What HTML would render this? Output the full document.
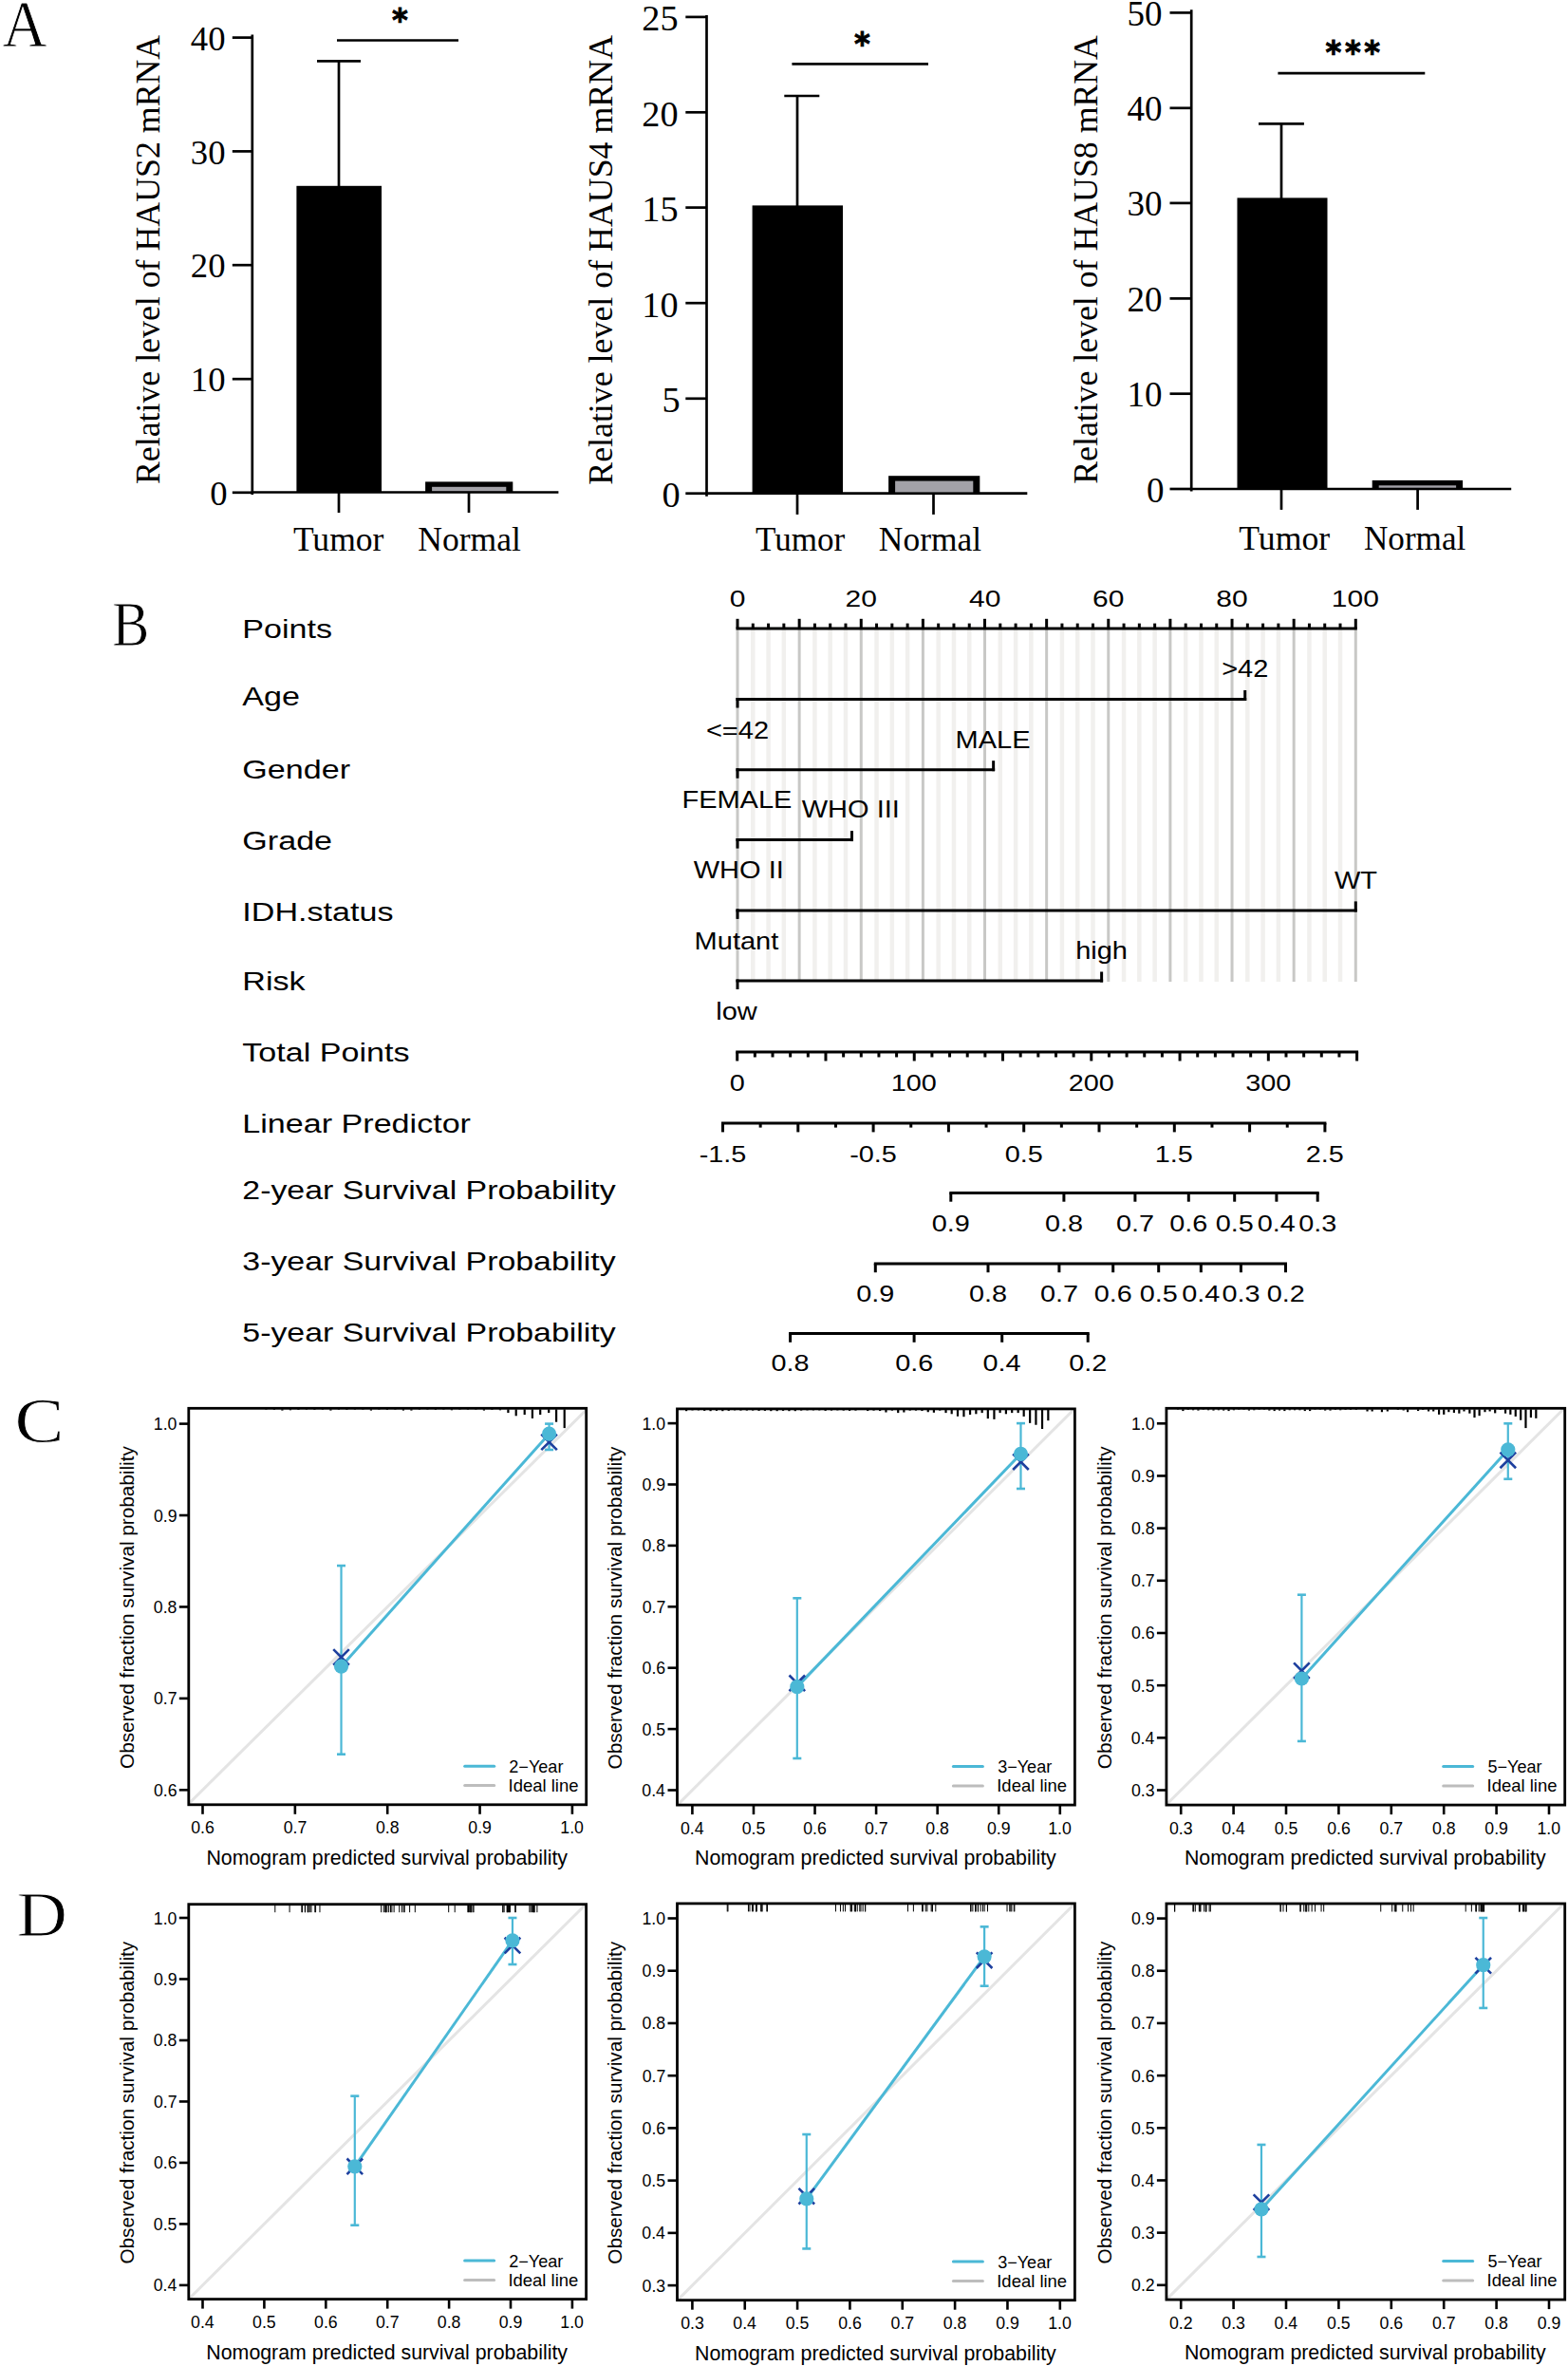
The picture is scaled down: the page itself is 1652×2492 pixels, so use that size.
<!DOCTYPE html>
<html><head><meta charset="utf-8"><title>Figure</title>
<style>html,body{margin:0;padding:0;background:#fff;} svg{display:block;}</style></head>
<body>
<svg width="1652" height="2492" viewBox="0 0 1652 2492">
<rect width="1652" height="2492" fill="#fff"/>
<text transform="translate(2.45,49.40) scale(0.9281,1)" font-family='"Liberation Serif", "Times New Roman", serif' font-size="70.15" stroke="#fff" stroke-width="0.8">A</text>
<line x1="265.80" y1="36.40" x2="265.80" y2="521.00" stroke="#000" stroke-width="2.7"/>
<line x1="244.80" y1="39.60" x2="265.80" y2="39.60" stroke="#000" stroke-width="2.7"/>
<text transform="translate(200.87,52.80)" font-family='"Liberation Serif", "Times New Roman", serif' font-size="36.7">40</text>
<line x1="244.80" y1="159.40" x2="265.80" y2="159.40" stroke="#000" stroke-width="2.7"/>
<text transform="translate(200.87,172.60)" font-family='"Liberation Serif", "Times New Roman", serif' font-size="36.7">30</text>
<line x1="244.80" y1="279.20" x2="265.80" y2="279.20" stroke="#000" stroke-width="2.7"/>
<text transform="translate(200.87,292.40)" font-family='"Liberation Serif", "Times New Roman", serif' font-size="36.7">20</text>
<line x1="244.80" y1="399.20" x2="265.80" y2="399.20" stroke="#000" stroke-width="2.7"/>
<text transform="translate(200.87,412.40)" font-family='"Liberation Serif", "Times New Roman", serif' font-size="36.7">10</text>
<line x1="244.80" y1="518.80" x2="265.80" y2="518.80" stroke="#000" stroke-width="2.7"/>
<text transform="translate(221.22,532.00)" font-family='"Liberation Serif", "Times New Roman", serif' font-size="36.7">0</text>
<line x1="264.80" y1="518.50" x2="588.40" y2="518.50" stroke="#000" stroke-width="2.7"/>
<line x1="357.00" y1="518.50" x2="357.00" y2="540.00" stroke="#000" stroke-width="2.7"/>
<line x1="494.00" y1="518.50" x2="494.00" y2="540.00" stroke="#000" stroke-width="2.7"/>
<rect x="312.40" y="195.80" width="89.60" height="322.70" fill="#000"/>
<line x1="357.00" y1="64.30" x2="357.00" y2="196.80" stroke="#000" stroke-width="2.7"/>
<line x1="334.00" y1="64.30" x2="380.00" y2="64.30" stroke="#000" stroke-width="2.7"/>
<rect x="448.10" y="507.40" width="92.20" height="11.10" fill="#000"/>
<rect x="455.10" y="512.80" width="78.20" height="4.40" fill="#a3a2a8"/>
<line x1="355.00" y1="42.50" x2="483.00" y2="42.50" stroke="#000" stroke-width="2.7"/>
<text transform="translate(413.06,33.26) scale(0.9436,1)" font-family='"DejaVu Sans", sans-serif' font-size="34" font-weight="bold" stroke="#000" stroke-width="0.9">*</text>
<text transform="translate(308.89,580.20) scale(1.0161,1)" font-family='"Liberation Serif", "Times New Roman", serif' font-size="35">Tumor</text>
<text transform="translate(440.23,580.20) scale(1.0164,1)" font-family='"Liberation Serif", "Times New Roman", serif' font-size="35">Normal</text>
<text transform="translate(168.30,510.07) rotate(-90) scale(1.0028,1)" font-family='"Liberation Serif", "Times New Roman", serif' font-size="35.7">Relative level of HAUS2 mRNA</text>
<line x1="744.50" y1="16.00" x2="744.50" y2="522.70" stroke="#000" stroke-width="2.7"/>
<line x1="722.30" y1="17.90" x2="744.50" y2="17.90" stroke="#000" stroke-width="2.7"/>
<text transform="translate(676.23,32.20)" font-family='"Liberation Serif", "Times New Roman", serif' font-size="38.3">25</text>
<line x1="722.30" y1="118.30" x2="744.50" y2="118.30" stroke="#000" stroke-width="2.7"/>
<text transform="translate(676.23,132.60)" font-family='"Liberation Serif", "Times New Roman", serif' font-size="38.3">20</text>
<line x1="722.30" y1="218.60" x2="744.50" y2="218.60" stroke="#000" stroke-width="2.7"/>
<text transform="translate(676.23,232.90)" font-family='"Liberation Serif", "Times New Roman", serif' font-size="38.3">15</text>
<line x1="722.30" y1="319.20" x2="744.50" y2="319.20" stroke="#000" stroke-width="2.7"/>
<text transform="translate(676.23,333.50)" font-family='"Liberation Serif", "Times New Roman", serif' font-size="38.3">10</text>
<line x1="722.30" y1="419.80" x2="744.50" y2="419.80" stroke="#000" stroke-width="2.7"/>
<text transform="translate(697.38,434.10)" font-family='"Liberation Serif", "Times New Roman", serif' font-size="38.3">5</text>
<line x1="722.30" y1="519.70" x2="744.50" y2="519.70" stroke="#000" stroke-width="2.7"/>
<text transform="translate(697.38,534.00)" font-family='"Liberation Serif", "Times New Roman", serif' font-size="38.3">0</text>
<line x1="743.50" y1="519.70" x2="1082.30" y2="519.70" stroke="#000" stroke-width="2.7"/>
<line x1="840.00" y1="519.70" x2="840.00" y2="541.90" stroke="#000" stroke-width="2.7"/>
<line x1="983.50" y1="519.70" x2="983.50" y2="541.90" stroke="#000" stroke-width="2.7"/>
<rect x="792.60" y="216.40" width="95.40" height="303.30" fill="#000"/>
<line x1="840.00" y1="101.00" x2="840.00" y2="217.40" stroke="#000" stroke-width="2.7"/>
<line x1="826.30" y1="101.00" x2="863.30" y2="101.00" stroke="#000" stroke-width="2.7"/>
<rect x="936.10" y="501.20" width="96.20" height="18.50" fill="#000"/>
<rect x="943.10" y="506.60" width="82.20" height="11.80" fill="#a3a2a8"/>
<line x1="834.40" y1="67.30" x2="978.00" y2="67.30" stroke="#000" stroke-width="2.7"/>
<text transform="translate(900.06,58.46) scale(0.9436,1)" font-family='"DejaVu Sans", sans-serif' font-size="34" font-weight="bold" stroke="#000" stroke-width="0.9">*</text>
<text transform="translate(796.00,580.00) scale(1.0011,1)" font-family='"Liberation Serif", "Times New Roman", serif' font-size="35">Tumor</text>
<text transform="translate(925.84,580.00) scale(1.0126,1)" font-family='"Liberation Serif", "Times New Roman", serif' font-size="35">Normal</text>
<text transform="translate(645.00,510.78) rotate(-90) scale(1.0042,1)" font-family='"Liberation Serif", "Times New Roman", serif' font-size="35.7">Relative level of HAUS4 mRNA</text>
<line x1="1255.20" y1="10.20" x2="1255.20" y2="517.50" stroke="#000" stroke-width="2.7"/>
<line x1="1232.50" y1="13.40" x2="1255.20" y2="13.40" stroke="#000" stroke-width="2.7"/>
<text transform="translate(1187.38,26.90)" font-family='"Liberation Serif", "Times New Roman", serif' font-size="37">50</text>
<line x1="1232.50" y1="113.80" x2="1255.20" y2="113.80" stroke="#000" stroke-width="2.7"/>
<text transform="translate(1187.38,127.30)" font-family='"Liberation Serif", "Times New Roman", serif' font-size="37">40</text>
<line x1="1232.50" y1="213.90" x2="1255.20" y2="213.90" stroke="#000" stroke-width="2.7"/>
<text transform="translate(1187.38,227.40)" font-family='"Liberation Serif", "Times New Roman", serif' font-size="37">30</text>
<line x1="1232.50" y1="314.40" x2="1255.20" y2="314.40" stroke="#000" stroke-width="2.7"/>
<text transform="translate(1187.38,327.90)" font-family='"Liberation Serif", "Times New Roman", serif' font-size="37">20</text>
<line x1="1232.50" y1="414.70" x2="1255.20" y2="414.70" stroke="#000" stroke-width="2.7"/>
<text transform="translate(1187.38,428.20)" font-family='"Liberation Serif", "Times New Roman", serif' font-size="37">10</text>
<line x1="1232.50" y1="515.00" x2="1255.20" y2="515.00" stroke="#000" stroke-width="2.7"/>
<text transform="translate(1207.88,528.50)" font-family='"Liberation Serif", "Times New Roman", serif' font-size="37">0</text>
<line x1="1254.20" y1="515.00" x2="1592.20" y2="515.00" stroke="#000" stroke-width="2.7"/>
<line x1="1350.00" y1="515.00" x2="1350.00" y2="536.90" stroke="#000" stroke-width="2.7"/>
<line x1="1493.60" y1="515.00" x2="1493.60" y2="536.90" stroke="#000" stroke-width="2.7"/>
<rect x="1303.50" y="208.40" width="95.00" height="306.60" fill="#000"/>
<line x1="1350.00" y1="130.30" x2="1350.00" y2="209.40" stroke="#000" stroke-width="2.7"/>
<line x1="1326.00" y1="130.30" x2="1373.90" y2="130.30" stroke="#000" stroke-width="2.7"/>
<rect x="1445.70" y="505.90" width="95.40" height="9.10" fill="#000"/>
<rect x="1452.70" y="511.30" width="81.40" height="2.40" fill="#a3a2a8"/>
<line x1="1346.40" y1="77.20" x2="1501.30" y2="77.20" stroke="#000" stroke-width="2.7"/>
<text transform="translate(1396.56,67.26) scale(0.9436,1)" font-family='"DejaVu Sans", sans-serif' font-size="34" font-weight="bold" stroke="#000" stroke-width="0.9">*</text>
<text transform="translate(1416.96,67.26) scale(0.9436,1)" font-family='"DejaVu Sans", sans-serif' font-size="34" font-weight="bold" stroke="#000" stroke-width="0.9">*</text>
<text transform="translate(1437.36,67.26) scale(0.9436,1)" font-family='"DejaVu Sans", sans-serif' font-size="34" font-weight="bold" stroke="#000" stroke-width="0.9">*</text>
<text transform="translate(1305.29,579.10) scale(1.0204,1)" font-family='"Liberation Serif", "Times New Roman", serif' font-size="35">Tumor</text>
<text transform="translate(1436.95,579.10) scale(1.0040,1)" font-family='"Liberation Serif", "Times New Roman", serif' font-size="35">Normal</text>
<text transform="translate(1156.30,509.77) rotate(-90) scale(1.0021,1)" font-family='"Liberation Serif", "Times New Roman", serif' font-size="35.7">Relative level of HAUS8 mRNA</text>
<text transform="translate(118.35,679.56) scale(0.8614,1)" font-family='"Liberation Serif", "Times New Roman", serif' font-size="67.88" stroke="#fff" stroke-width="0.8">B</text>
<line x1="777.00" y1="662" x2="777.00" y2="1034" stroke="#c8c8c6" stroke-width="3.0"/>
<line x1="793.28" y1="662" x2="793.28" y2="1034" stroke="#f1f0ee" stroke-width="4.5"/>
<line x1="809.57" y1="662" x2="809.57" y2="1034" stroke="#f1f0ee" stroke-width="4.5"/>
<line x1="825.85" y1="662" x2="825.85" y2="1034" stroke="#f1f0ee" stroke-width="4.5"/>
<line x1="842.13" y1="662" x2="842.13" y2="1034" stroke="#c8c8c6" stroke-width="3.0"/>
<line x1="858.41" y1="662" x2="858.41" y2="1034" stroke="#f1f0ee" stroke-width="4.5"/>
<line x1="874.69" y1="662" x2="874.69" y2="1034" stroke="#f1f0ee" stroke-width="4.5"/>
<line x1="890.98" y1="662" x2="890.98" y2="1034" stroke="#f1f0ee" stroke-width="4.5"/>
<line x1="907.26" y1="662" x2="907.26" y2="1034" stroke="#c8c8c6" stroke-width="3.0"/>
<line x1="923.54" y1="662" x2="923.54" y2="1034" stroke="#f1f0ee" stroke-width="4.5"/>
<line x1="939.83" y1="662" x2="939.83" y2="1034" stroke="#f1f0ee" stroke-width="4.5"/>
<line x1="956.11" y1="662" x2="956.11" y2="1034" stroke="#f1f0ee" stroke-width="4.5"/>
<line x1="972.39" y1="662" x2="972.39" y2="1034" stroke="#c8c8c6" stroke-width="3.0"/>
<line x1="988.67" y1="662" x2="988.67" y2="1034" stroke="#f1f0ee" stroke-width="4.5"/>
<line x1="1004.96" y1="662" x2="1004.96" y2="1034" stroke="#f1f0ee" stroke-width="4.5"/>
<line x1="1021.24" y1="662" x2="1021.24" y2="1034" stroke="#f1f0ee" stroke-width="4.5"/>
<line x1="1037.52" y1="662" x2="1037.52" y2="1034" stroke="#c8c8c6" stroke-width="3.0"/>
<line x1="1053.80" y1="662" x2="1053.80" y2="1034" stroke="#f1f0ee" stroke-width="4.5"/>
<line x1="1070.09" y1="662" x2="1070.09" y2="1034" stroke="#f1f0ee" stroke-width="4.5"/>
<line x1="1086.37" y1="662" x2="1086.37" y2="1034" stroke="#f1f0ee" stroke-width="4.5"/>
<line x1="1102.65" y1="662" x2="1102.65" y2="1034" stroke="#c8c8c6" stroke-width="3.0"/>
<line x1="1118.93" y1="662" x2="1118.93" y2="1034" stroke="#f1f0ee" stroke-width="4.5"/>
<line x1="1135.21" y1="662" x2="1135.21" y2="1034" stroke="#f1f0ee" stroke-width="4.5"/>
<line x1="1151.50" y1="662" x2="1151.50" y2="1034" stroke="#f1f0ee" stroke-width="4.5"/>
<line x1="1167.78" y1="662" x2="1167.78" y2="1034" stroke="#c8c8c6" stroke-width="3.0"/>
<line x1="1184.06" y1="662" x2="1184.06" y2="1034" stroke="#f1f0ee" stroke-width="4.5"/>
<line x1="1200.35" y1="662" x2="1200.35" y2="1034" stroke="#f1f0ee" stroke-width="4.5"/>
<line x1="1216.63" y1="662" x2="1216.63" y2="1034" stroke="#f1f0ee" stroke-width="4.5"/>
<line x1="1232.91" y1="662" x2="1232.91" y2="1034" stroke="#c8c8c6" stroke-width="3.0"/>
<line x1="1249.19" y1="662" x2="1249.19" y2="1034" stroke="#f1f0ee" stroke-width="4.5"/>
<line x1="1265.47" y1="662" x2="1265.47" y2="1034" stroke="#f1f0ee" stroke-width="4.5"/>
<line x1="1281.76" y1="662" x2="1281.76" y2="1034" stroke="#f1f0ee" stroke-width="4.5"/>
<line x1="1298.04" y1="662" x2="1298.04" y2="1034" stroke="#c8c8c6" stroke-width="3.0"/>
<line x1="1314.32" y1="662" x2="1314.32" y2="1034" stroke="#f1f0ee" stroke-width="4.5"/>
<line x1="1330.61" y1="662" x2="1330.61" y2="1034" stroke="#f1f0ee" stroke-width="4.5"/>
<line x1="1346.89" y1="662" x2="1346.89" y2="1034" stroke="#f1f0ee" stroke-width="4.5"/>
<line x1="1363.17" y1="662" x2="1363.17" y2="1034" stroke="#c8c8c6" stroke-width="3.0"/>
<line x1="1379.45" y1="662" x2="1379.45" y2="1034" stroke="#f1f0ee" stroke-width="4.5"/>
<line x1="1395.73" y1="662" x2="1395.73" y2="1034" stroke="#f1f0ee" stroke-width="4.5"/>
<line x1="1412.02" y1="662" x2="1412.02" y2="1034" stroke="#f1f0ee" stroke-width="4.5"/>
<line x1="1428.30" y1="662" x2="1428.30" y2="1034" stroke="#c8c8c6" stroke-width="3.0"/>
<text transform="translate(255.30,671.80) scale(1.2400,1)" font-family='"Liberation Sans", Arial, sans-serif' font-size="27.5">Points</text>
<text transform="translate(255.30,743.00) scale(1.2400,1)" font-family='"Liberation Sans", Arial, sans-serif' font-size="27.5">Age</text>
<text transform="translate(255.30,820.10) scale(1.2400,1)" font-family='"Liberation Sans", Arial, sans-serif' font-size="27.5">Gender</text>
<text transform="translate(255.30,894.60) scale(1.2400,1)" font-family='"Liberation Sans", Arial, sans-serif' font-size="27.5">Grade</text>
<text transform="translate(255.30,969.60) scale(1.2400,1)" font-family='"Liberation Sans", Arial, sans-serif' font-size="27.5">IDH.status</text>
<text transform="translate(255.30,1043.30) scale(1.2400,1)" font-family='"Liberation Sans", Arial, sans-serif' font-size="27.5">Risk</text>
<text transform="translate(255.30,1118.10) scale(1.2400,1)" font-family='"Liberation Sans", Arial, sans-serif' font-size="27.5">Total Points</text>
<text transform="translate(255.30,1192.90) scale(1.2400,1)" font-family='"Liberation Sans", Arial, sans-serif' font-size="27.5">Linear Predictor</text>
<text transform="translate(255.30,1263.40) scale(1.2320,1)" font-family='"Liberation Sans", Arial, sans-serif' font-size="27.5">2-year Survival Probability</text>
<text transform="translate(255.30,1338.20) scale(1.2320,1)" font-family='"Liberation Sans", Arial, sans-serif' font-size="27.5">3-year Survival Probability</text>
<text transform="translate(255.30,1413.00) scale(1.2320,1)" font-family='"Liberation Sans", Arial, sans-serif' font-size="27.5">5-year Survival Probability</text>
<line x1="775.50" y1="661.90" x2="1429.80" y2="661.90" stroke="#000" stroke-width="3.0"/>
<line x1="777.00" y1="651.80" x2="777.00" y2="661.90" stroke="#000" stroke-width="3.0"/>
<line x1="793.28" y1="656.60" x2="793.28" y2="661.90" stroke="#000" stroke-width="3.0"/>
<line x1="809.57" y1="656.60" x2="809.57" y2="661.90" stroke="#000" stroke-width="3.0"/>
<line x1="825.85" y1="656.60" x2="825.85" y2="661.90" stroke="#000" stroke-width="3.0"/>
<line x1="842.13" y1="651.80" x2="842.13" y2="661.90" stroke="#000" stroke-width="3.0"/>
<line x1="858.41" y1="656.60" x2="858.41" y2="661.90" stroke="#000" stroke-width="3.0"/>
<line x1="874.69" y1="656.60" x2="874.69" y2="661.90" stroke="#000" stroke-width="3.0"/>
<line x1="890.98" y1="656.60" x2="890.98" y2="661.90" stroke="#000" stroke-width="3.0"/>
<line x1="907.26" y1="651.80" x2="907.26" y2="661.90" stroke="#000" stroke-width="3.0"/>
<line x1="923.54" y1="656.60" x2="923.54" y2="661.90" stroke="#000" stroke-width="3.0"/>
<line x1="939.83" y1="656.60" x2="939.83" y2="661.90" stroke="#000" stroke-width="3.0"/>
<line x1="956.11" y1="656.60" x2="956.11" y2="661.90" stroke="#000" stroke-width="3.0"/>
<line x1="972.39" y1="651.80" x2="972.39" y2="661.90" stroke="#000" stroke-width="3.0"/>
<line x1="988.67" y1="656.60" x2="988.67" y2="661.90" stroke="#000" stroke-width="3.0"/>
<line x1="1004.96" y1="656.60" x2="1004.96" y2="661.90" stroke="#000" stroke-width="3.0"/>
<line x1="1021.24" y1="656.60" x2="1021.24" y2="661.90" stroke="#000" stroke-width="3.0"/>
<line x1="1037.52" y1="651.80" x2="1037.52" y2="661.90" stroke="#000" stroke-width="3.0"/>
<line x1="1053.80" y1="656.60" x2="1053.80" y2="661.90" stroke="#000" stroke-width="3.0"/>
<line x1="1070.09" y1="656.60" x2="1070.09" y2="661.90" stroke="#000" stroke-width="3.0"/>
<line x1="1086.37" y1="656.60" x2="1086.37" y2="661.90" stroke="#000" stroke-width="3.0"/>
<line x1="1102.65" y1="651.80" x2="1102.65" y2="661.90" stroke="#000" stroke-width="3.0"/>
<line x1="1118.93" y1="656.60" x2="1118.93" y2="661.90" stroke="#000" stroke-width="3.0"/>
<line x1="1135.21" y1="656.60" x2="1135.21" y2="661.90" stroke="#000" stroke-width="3.0"/>
<line x1="1151.50" y1="656.60" x2="1151.50" y2="661.90" stroke="#000" stroke-width="3.0"/>
<line x1="1167.78" y1="651.80" x2="1167.78" y2="661.90" stroke="#000" stroke-width="3.0"/>
<line x1="1184.06" y1="656.60" x2="1184.06" y2="661.90" stroke="#000" stroke-width="3.0"/>
<line x1="1200.35" y1="656.60" x2="1200.35" y2="661.90" stroke="#000" stroke-width="3.0"/>
<line x1="1216.63" y1="656.60" x2="1216.63" y2="661.90" stroke="#000" stroke-width="3.0"/>
<line x1="1232.91" y1="651.80" x2="1232.91" y2="661.90" stroke="#000" stroke-width="3.0"/>
<line x1="1249.19" y1="656.60" x2="1249.19" y2="661.90" stroke="#000" stroke-width="3.0"/>
<line x1="1265.47" y1="656.60" x2="1265.47" y2="661.90" stroke="#000" stroke-width="3.0"/>
<line x1="1281.76" y1="656.60" x2="1281.76" y2="661.90" stroke="#000" stroke-width="3.0"/>
<line x1="1298.04" y1="651.80" x2="1298.04" y2="661.90" stroke="#000" stroke-width="3.0"/>
<line x1="1314.32" y1="656.60" x2="1314.32" y2="661.90" stroke="#000" stroke-width="3.0"/>
<line x1="1330.61" y1="656.60" x2="1330.61" y2="661.90" stroke="#000" stroke-width="3.0"/>
<line x1="1346.89" y1="656.60" x2="1346.89" y2="661.90" stroke="#000" stroke-width="3.0"/>
<line x1="1363.17" y1="651.80" x2="1363.17" y2="661.90" stroke="#000" stroke-width="3.0"/>
<line x1="1379.45" y1="656.60" x2="1379.45" y2="661.90" stroke="#000" stroke-width="3.0"/>
<line x1="1395.73" y1="656.60" x2="1395.73" y2="661.90" stroke="#000" stroke-width="3.0"/>
<line x1="1412.02" y1="656.60" x2="1412.02" y2="661.90" stroke="#000" stroke-width="3.0"/>
<line x1="1428.30" y1="651.80" x2="1428.30" y2="661.90" stroke="#000" stroke-width="3.0"/>
<text transform="translate(768.67,638.70) scale(1.2500,1)" font-family='"Liberation Sans", Arial, sans-serif' font-size="24.0">0</text>
<text transform="translate(890.46,638.70) scale(1.2500,1)" font-family='"Liberation Sans", Arial, sans-serif' font-size="24.0">20</text>
<text transform="translate(1021.10,638.70) scale(1.2500,1)" font-family='"Liberation Sans", Arial, sans-serif' font-size="24.0">40</text>
<text transform="translate(1150.98,638.70) scale(1.2500,1)" font-family='"Liberation Sans", Arial, sans-serif' font-size="24.0">60</text>
<text transform="translate(1281.32,638.70) scale(1.2500,1)" font-family='"Liberation Sans", Arial, sans-serif' font-size="24.0">80</text>
<text transform="translate(1402.80,638.70) scale(1.2500,1)" font-family='"Liberation Sans", Arial, sans-serif' font-size="24.0">100</text>
<line x1="775.50" y1="736.50" x2="1313.22" y2="736.50" stroke="#000" stroke-width="3.0"/>
<line x1="777.00" y1="735.00" x2="777.00" y2="745.50" stroke="#000" stroke-width="3.0"/>
<line x1="1311.72" y1="738.00" x2="1311.72" y2="727.00" stroke="#000" stroke-width="3.0"/>
<text transform="translate(743.94,778.00) scale(1.1600,1)" font-family='"Liberation Sans", Arial, sans-serif' font-size="25.0">&lt;=42</text>
<text transform="translate(1287.14,712.80) scale(1.1600,1)" font-family='"Liberation Sans", Arial, sans-serif' font-size="25.0">&gt;42</text>
<line x1="775.50" y1="810.70" x2="1048.14" y2="810.70" stroke="#000" stroke-width="3.0"/>
<line x1="777.00" y1="809.20" x2="777.00" y2="819.70" stroke="#000" stroke-width="3.0"/>
<line x1="1046.64" y1="812.20" x2="1046.64" y2="801.20" stroke="#000" stroke-width="3.0"/>
<text transform="translate(718.42,851.30) scale(1.1600,1)" font-family='"Liberation Sans", Arial, sans-serif' font-size="25.0">FEMALE</text>
<text transform="translate(1006.62,787.50) scale(1.1600,1)" font-family='"Liberation Sans", Arial, sans-serif' font-size="25.0">MALE</text>
<line x1="775.50" y1="884.60" x2="898.99" y2="884.60" stroke="#000" stroke-width="3.0"/>
<line x1="777.00" y1="883.10" x2="777.00" y2="893.60" stroke="#000" stroke-width="3.0"/>
<line x1="897.49" y1="886.10" x2="897.49" y2="875.10" stroke="#000" stroke-width="3.0"/>
<text transform="translate(730.75,925.40) scale(1.1600,1)" font-family='"Liberation Sans", Arial, sans-serif' font-size="25.0">WHO II</text>
<text transform="translate(844.76,860.70) scale(1.1600,1)" font-family='"Liberation Sans", Arial, sans-serif' font-size="25.0">WHO III</text>
<line x1="775.50" y1="958.90" x2="1429.80" y2="958.90" stroke="#000" stroke-width="3.0"/>
<line x1="777.00" y1="957.40" x2="777.00" y2="967.90" stroke="#000" stroke-width="3.0"/>
<line x1="1428.30" y1="960.40" x2="1428.30" y2="949.40" stroke="#000" stroke-width="3.0"/>
<text transform="translate(731.61,999.60) scale(1.1600,1)" font-family='"Liberation Sans", Arial, sans-serif' font-size="25.0">Mutant</text>
<text transform="translate(1405.97,936.00) scale(1.1600,1)" font-family='"Liberation Sans", Arial, sans-serif' font-size="25.0">WT</text>
<line x1="775.50" y1="1033.00" x2="1162.12" y2="1033.00" stroke="#000" stroke-width="3.0"/>
<line x1="777.00" y1="1031.50" x2="777.00" y2="1042.00" stroke="#000" stroke-width="3.0"/>
<line x1="1160.62" y1="1034.50" x2="1160.62" y2="1023.50" stroke="#000" stroke-width="3.0"/>
<text transform="translate(754.24,1073.70) scale(1.1600,1)" font-family='"Liberation Sans", Arial, sans-serif' font-size="25.0">low</text>
<text transform="translate(1133.14,1010.00) scale(1.1600,1)" font-family='"Liberation Sans", Arial, sans-serif' font-size="25.0">high</text>
<line x1="775.20" y1="1108.00" x2="1431.10" y2="1108.00" stroke="#000" stroke-width="3.0"/>
<line x1="776.70" y1="1108.00" x2="776.70" y2="1117.50" stroke="#000" stroke-width="3.0"/>
<line x1="795.35" y1="1108.00" x2="795.35" y2="1113.50" stroke="#000" stroke-width="3.0"/>
<line x1="814.01" y1="1108.00" x2="814.01" y2="1113.50" stroke="#000" stroke-width="3.0"/>
<line x1="832.66" y1="1108.00" x2="832.66" y2="1113.50" stroke="#000" stroke-width="3.0"/>
<line x1="851.32" y1="1108.00" x2="851.32" y2="1113.50" stroke="#000" stroke-width="3.0"/>
<line x1="869.97" y1="1108.00" x2="869.97" y2="1117.50" stroke="#000" stroke-width="3.0"/>
<line x1="888.63" y1="1108.00" x2="888.63" y2="1113.50" stroke="#000" stroke-width="3.0"/>
<line x1="907.28" y1="1108.00" x2="907.28" y2="1113.50" stroke="#000" stroke-width="3.0"/>
<line x1="925.93" y1="1108.00" x2="925.93" y2="1113.50" stroke="#000" stroke-width="3.0"/>
<line x1="944.59" y1="1108.00" x2="944.59" y2="1113.50" stroke="#000" stroke-width="3.0"/>
<line x1="963.24" y1="1108.00" x2="963.24" y2="1117.50" stroke="#000" stroke-width="3.0"/>
<line x1="981.90" y1="1108.00" x2="981.90" y2="1113.50" stroke="#000" stroke-width="3.0"/>
<line x1="1000.55" y1="1108.00" x2="1000.55" y2="1113.50" stroke="#000" stroke-width="3.0"/>
<line x1="1019.21" y1="1108.00" x2="1019.21" y2="1113.50" stroke="#000" stroke-width="3.0"/>
<line x1="1037.86" y1="1108.00" x2="1037.86" y2="1113.50" stroke="#000" stroke-width="3.0"/>
<line x1="1056.51" y1="1108.00" x2="1056.51" y2="1117.50" stroke="#000" stroke-width="3.0"/>
<line x1="1075.17" y1="1108.00" x2="1075.17" y2="1113.50" stroke="#000" stroke-width="3.0"/>
<line x1="1093.82" y1="1108.00" x2="1093.82" y2="1113.50" stroke="#000" stroke-width="3.0"/>
<line x1="1112.48" y1="1108.00" x2="1112.48" y2="1113.50" stroke="#000" stroke-width="3.0"/>
<line x1="1131.13" y1="1108.00" x2="1131.13" y2="1113.50" stroke="#000" stroke-width="3.0"/>
<line x1="1149.79" y1="1108.00" x2="1149.79" y2="1117.50" stroke="#000" stroke-width="3.0"/>
<line x1="1168.44" y1="1108.00" x2="1168.44" y2="1113.50" stroke="#000" stroke-width="3.0"/>
<line x1="1187.09" y1="1108.00" x2="1187.09" y2="1113.50" stroke="#000" stroke-width="3.0"/>
<line x1="1205.75" y1="1108.00" x2="1205.75" y2="1113.50" stroke="#000" stroke-width="3.0"/>
<line x1="1224.40" y1="1108.00" x2="1224.40" y2="1113.50" stroke="#000" stroke-width="3.0"/>
<line x1="1243.06" y1="1108.00" x2="1243.06" y2="1117.50" stroke="#000" stroke-width="3.0"/>
<line x1="1261.71" y1="1108.00" x2="1261.71" y2="1113.50" stroke="#000" stroke-width="3.0"/>
<line x1="1280.37" y1="1108.00" x2="1280.37" y2="1113.50" stroke="#000" stroke-width="3.0"/>
<line x1="1299.02" y1="1108.00" x2="1299.02" y2="1113.50" stroke="#000" stroke-width="3.0"/>
<line x1="1317.67" y1="1108.00" x2="1317.67" y2="1113.50" stroke="#000" stroke-width="3.0"/>
<line x1="1336.33" y1="1108.00" x2="1336.33" y2="1117.50" stroke="#000" stroke-width="3.0"/>
<line x1="1354.98" y1="1108.00" x2="1354.98" y2="1113.50" stroke="#000" stroke-width="3.0"/>
<line x1="1373.64" y1="1108.00" x2="1373.64" y2="1113.50" stroke="#000" stroke-width="3.0"/>
<line x1="1392.29" y1="1108.00" x2="1392.29" y2="1113.50" stroke="#000" stroke-width="3.0"/>
<line x1="1410.95" y1="1108.00" x2="1410.95" y2="1113.50" stroke="#000" stroke-width="3.0"/>
<line x1="1429.60" y1="1108.00" x2="1429.60" y2="1117.50" stroke="#000" stroke-width="3.0"/>
<text transform="translate(768.71,1148.80) scale(1.2000,1)" font-family='"Liberation Sans", Arial, sans-serif' font-size="24.0">0</text>
<text transform="translate(938.76,1148.80) scale(1.2000,1)" font-family='"Liberation Sans", Arial, sans-serif' font-size="24.0">100</text>
<text transform="translate(1125.67,1148.80) scale(1.2000,1)" font-family='"Liberation Sans", Arial, sans-serif' font-size="24.0">200</text>
<text transform="translate(1312.35,1148.80) scale(1.2000,1)" font-family='"Liberation Sans", Arial, sans-serif' font-size="24.0">300</text>
<line x1="760.00" y1="1183.00" x2="1397.40" y2="1183.00" stroke="#000" stroke-width="3.0"/>
<line x1="761.50" y1="1183.00" x2="761.50" y2="1192.40" stroke="#000" stroke-width="3.0"/>
<line x1="801.15" y1="1183.00" x2="801.15" y2="1187.60" stroke="#000" stroke-width="3.0"/>
<line x1="840.80" y1="1183.00" x2="840.80" y2="1192.40" stroke="#000" stroke-width="3.0"/>
<line x1="880.45" y1="1183.00" x2="880.45" y2="1187.60" stroke="#000" stroke-width="3.0"/>
<line x1="920.10" y1="1183.00" x2="920.10" y2="1192.40" stroke="#000" stroke-width="3.0"/>
<line x1="959.75" y1="1183.00" x2="959.75" y2="1187.60" stroke="#000" stroke-width="3.0"/>
<line x1="999.40" y1="1183.00" x2="999.40" y2="1192.40" stroke="#000" stroke-width="3.0"/>
<line x1="1039.05" y1="1183.00" x2="1039.05" y2="1187.60" stroke="#000" stroke-width="3.0"/>
<line x1="1078.70" y1="1183.00" x2="1078.70" y2="1192.40" stroke="#000" stroke-width="3.0"/>
<line x1="1118.35" y1="1183.00" x2="1118.35" y2="1187.60" stroke="#000" stroke-width="3.0"/>
<line x1="1158.00" y1="1183.00" x2="1158.00" y2="1192.40" stroke="#000" stroke-width="3.0"/>
<line x1="1197.65" y1="1183.00" x2="1197.65" y2="1187.60" stroke="#000" stroke-width="3.0"/>
<line x1="1237.30" y1="1183.00" x2="1237.30" y2="1192.40" stroke="#000" stroke-width="3.0"/>
<line x1="1276.95" y1="1183.00" x2="1276.95" y2="1187.60" stroke="#000" stroke-width="3.0"/>
<line x1="1316.60" y1="1183.00" x2="1316.60" y2="1192.40" stroke="#000" stroke-width="3.0"/>
<line x1="1356.25" y1="1183.00" x2="1356.25" y2="1187.60" stroke="#000" stroke-width="3.0"/>
<line x1="1395.90" y1="1183.00" x2="1395.90" y2="1192.40" stroke="#000" stroke-width="3.0"/>
<text transform="translate(736.66,1224.00) scale(1.2000,1)" font-family='"Liberation Sans", Arial, sans-serif' font-size="24.0">-1.5</text>
<text transform="translate(895.26,1224.00) scale(1.2000,1)" font-family='"Liberation Sans", Arial, sans-serif' font-size="24.0">-0.5</text>
<text transform="translate(1058.68,1224.00) scale(1.2000,1)" font-family='"Liberation Sans", Arial, sans-serif' font-size="24.0">0.5</text>
<text transform="translate(1216.78,1224.00) scale(1.2000,1)" font-family='"Liberation Sans", Arial, sans-serif' font-size="24.0">1.5</text>
<text transform="translate(1375.74,1224.00) scale(1.2000,1)" font-family='"Liberation Sans", Arial, sans-serif' font-size="24.0">2.5</text>
<line x1="1000.30" y1="1256.50" x2="1389.70" y2="1256.50" stroke="#000" stroke-width="3.0"/>
<line x1="1001.80" y1="1256.50" x2="1001.80" y2="1265.70" stroke="#000" stroke-width="3.0"/>
<text transform="translate(981.86,1297.30) scale(1.2000,1)" font-family='"Liberation Sans", Arial, sans-serif' font-size="24.0">0.9</text>
<line x1="1120.90" y1="1256.50" x2="1120.90" y2="1265.70" stroke="#000" stroke-width="3.0"/>
<text transform="translate(1100.88,1297.30) scale(1.2000,1)" font-family='"Liberation Sans", Arial, sans-serif' font-size="24.0">0.8</text>
<line x1="1195.90" y1="1256.50" x2="1195.90" y2="1265.70" stroke="#000" stroke-width="3.0"/>
<text transform="translate(1176.03,1297.30) scale(1.2000,1)" font-family='"Liberation Sans", Arial, sans-serif' font-size="24.0">0.7</text>
<line x1="1252.30" y1="1256.50" x2="1252.30" y2="1265.70" stroke="#000" stroke-width="3.0"/>
<text transform="translate(1232.36,1297.30) scale(1.2000,1)" font-family='"Liberation Sans", Arial, sans-serif' font-size="24.0">0.6</text>
<line x1="1300.70" y1="1256.50" x2="1300.70" y2="1265.70" stroke="#000" stroke-width="3.0"/>
<text transform="translate(1280.68,1297.30) scale(1.2000,1)" font-family='"Liberation Sans", Arial, sans-serif' font-size="24.0">0.5</text>
<line x1="1344.90" y1="1256.50" x2="1344.90" y2="1265.70" stroke="#000" stroke-width="3.0"/>
<text transform="translate(1324.74,1297.30) scale(1.2000,1)" font-family='"Liberation Sans", Arial, sans-serif' font-size="24.0">0.4</text>
<line x1="1388.20" y1="1256.50" x2="1388.20" y2="1265.70" stroke="#000" stroke-width="3.0"/>
<text transform="translate(1368.26,1297.30) scale(1.2000,1)" font-family='"Liberation Sans", Arial, sans-serif' font-size="24.0">0.3</text>
<line x1="920.80" y1="1331.00" x2="1356.00" y2="1331.00" stroke="#000" stroke-width="3.0"/>
<line x1="922.30" y1="1331.00" x2="922.30" y2="1340.20" stroke="#000" stroke-width="3.0"/>
<text transform="translate(902.36,1371.00) scale(1.2000,1)" font-family='"Liberation Sans", Arial, sans-serif' font-size="24.0">0.9</text>
<line x1="1041.00" y1="1331.00" x2="1041.00" y2="1340.20" stroke="#000" stroke-width="3.0"/>
<text transform="translate(1020.98,1371.00) scale(1.2000,1)" font-family='"Liberation Sans", Arial, sans-serif' font-size="24.0">0.8</text>
<line x1="1115.90" y1="1331.00" x2="1115.90" y2="1340.20" stroke="#000" stroke-width="3.0"/>
<text transform="translate(1096.03,1371.00) scale(1.2000,1)" font-family='"Liberation Sans", Arial, sans-serif' font-size="24.0">0.7</text>
<line x1="1172.70" y1="1331.00" x2="1172.70" y2="1340.20" stroke="#000" stroke-width="3.0"/>
<text transform="translate(1152.76,1371.00) scale(1.2000,1)" font-family='"Liberation Sans", Arial, sans-serif' font-size="24.0">0.6</text>
<line x1="1220.70" y1="1331.00" x2="1220.70" y2="1340.20" stroke="#000" stroke-width="3.0"/>
<text transform="translate(1200.68,1371.00) scale(1.2000,1)" font-family='"Liberation Sans", Arial, sans-serif' font-size="24.0">0.5</text>
<line x1="1265.30" y1="1331.00" x2="1265.30" y2="1340.20" stroke="#000" stroke-width="3.0"/>
<text transform="translate(1245.14,1371.00) scale(1.2000,1)" font-family='"Liberation Sans", Arial, sans-serif' font-size="24.0">0.4</text>
<line x1="1307.40" y1="1331.00" x2="1307.40" y2="1340.20" stroke="#000" stroke-width="3.0"/>
<text transform="translate(1287.46,1371.00) scale(1.2000,1)" font-family='"Liberation Sans", Arial, sans-serif' font-size="24.0">0.3</text>
<line x1="1354.50" y1="1331.00" x2="1354.50" y2="1340.20" stroke="#000" stroke-width="3.0"/>
<text transform="translate(1334.63,1371.00) scale(1.2000,1)" font-family='"Liberation Sans", Arial, sans-serif' font-size="24.0">0.2</text>
<line x1="831.10" y1="1404.60" x2="1147.70" y2="1404.60" stroke="#000" stroke-width="3.0"/>
<line x1="832.60" y1="1404.60" x2="832.60" y2="1413.80" stroke="#000" stroke-width="3.0"/>
<text transform="translate(812.58,1443.80) scale(1.2000,1)" font-family='"Liberation Sans", Arial, sans-serif' font-size="24.0">0.8</text>
<line x1="963.10" y1="1404.60" x2="963.10" y2="1413.80" stroke="#000" stroke-width="3.0"/>
<text transform="translate(943.16,1443.80) scale(1.2000,1)" font-family='"Liberation Sans", Arial, sans-serif' font-size="24.0">0.6</text>
<line x1="1055.70" y1="1404.60" x2="1055.70" y2="1413.80" stroke="#000" stroke-width="3.0"/>
<text transform="translate(1035.54,1443.80) scale(1.2000,1)" font-family='"Liberation Sans", Arial, sans-serif' font-size="24.0">0.4</text>
<line x1="1146.20" y1="1404.60" x2="1146.20" y2="1413.80" stroke="#000" stroke-width="3.0"/>
<text transform="translate(1126.33,1443.80) scale(1.2000,1)" font-family='"Liberation Sans", Arial, sans-serif' font-size="24.0">0.2</text>
<text transform="translate(15.38,1519.21) scale(1.1345,1)" font-family='"Liberation Serif", "Times New Roman", serif' font-size="68.66" stroke="#fff" stroke-width="0.8">C</text>
<text transform="translate(17.79,2038.80) scale(1.0728,1)" font-family='"Liberation Serif", "Times New Roman", serif' font-size="68.55" stroke="#fff" stroke-width="0.8">D</text>
<g>
<clipPath id="cp1981483"><rect x="198.8" y="1483.3" width="418.90000000000003" height="417.5"/></clipPath>
<line x1="18.80" y1="2078.15" x2="797.60" y2="1306.75" stroke="#e4e4e4" stroke-width="3" clip-path="url(#cp1981483)"/>
<line x1="526.90" y1="1484.30" x2="526.90" y2="1485.30" stroke="#000" stroke-width="2.2"/>
<line x1="518.40" y1="1484.30" x2="518.40" y2="1485.00" stroke="#000" stroke-width="2.2"/>
<line x1="509.90" y1="1484.30" x2="509.90" y2="1485.60" stroke="#000" stroke-width="2.2"/>
<line x1="501.40" y1="1484.30" x2="501.40" y2="1484.80" stroke="#000" stroke-width="2.2"/>
<line x1="492.90" y1="1484.30" x2="492.90" y2="1484.80" stroke="#000" stroke-width="2.2"/>
<line x1="484.40" y1="1484.30" x2="484.40" y2="1484.80" stroke="#000" stroke-width="2.2"/>
<line x1="475.90" y1="1484.30" x2="475.90" y2="1485.30" stroke="#000" stroke-width="2.2"/>
<line x1="467.40" y1="1484.30" x2="467.40" y2="1484.80" stroke="#000" stroke-width="2.2"/>
<line x1="458.90" y1="1484.30" x2="458.90" y2="1485.00" stroke="#000" stroke-width="2.2"/>
<line x1="450.40" y1="1484.30" x2="450.40" y2="1484.80" stroke="#000" stroke-width="2.2"/>
<line x1="441.90" y1="1484.30" x2="441.90" y2="1484.80" stroke="#000" stroke-width="2.2"/>
<line x1="433.40" y1="1484.30" x2="433.40" y2="1485.60" stroke="#000" stroke-width="2.2"/>
<line x1="424.90" y1="1484.30" x2="424.90" y2="1485.60" stroke="#000" stroke-width="2.2"/>
<line x1="416.40" y1="1484.30" x2="416.40" y2="1484.80" stroke="#000" stroke-width="2.2"/>
<line x1="407.90" y1="1484.30" x2="407.90" y2="1485.00" stroke="#000" stroke-width="2.2"/>
<line x1="399.40" y1="1484.30" x2="399.40" y2="1484.80" stroke="#000" stroke-width="2.2"/>
<line x1="390.90" y1="1484.30" x2="390.90" y2="1485.60" stroke="#000" stroke-width="2.2"/>
<line x1="382.40" y1="1484.30" x2="382.40" y2="1484.80" stroke="#000" stroke-width="2.2"/>
<line x1="373.90" y1="1484.30" x2="373.90" y2="1484.80" stroke="#000" stroke-width="2.2"/>
<line x1="365.40" y1="1484.30" x2="365.40" y2="1485.00" stroke="#000" stroke-width="2.2"/>
<line x1="356.90" y1="1484.30" x2="356.90" y2="1484.80" stroke="#000" stroke-width="2.2"/>
<line x1="348.40" y1="1484.30" x2="348.40" y2="1485.60" stroke="#000" stroke-width="2.2"/>
<line x1="339.90" y1="1484.30" x2="339.90" y2="1484.80" stroke="#000" stroke-width="2.2"/>
<line x1="331.40" y1="1484.30" x2="331.40" y2="1485.00" stroke="#000" stroke-width="2.2"/>
<line x1="322.90" y1="1484.30" x2="322.90" y2="1484.80" stroke="#000" stroke-width="2.2"/>
<line x1="314.40" y1="1484.30" x2="314.40" y2="1485.00" stroke="#000" stroke-width="2.2"/>
<line x1="305.90" y1="1484.30" x2="305.90" y2="1485.30" stroke="#000" stroke-width="2.2"/>
<line x1="297.40" y1="1484.30" x2="297.40" y2="1485.60" stroke="#000" stroke-width="2.2"/>
<line x1="288.90" y1="1484.30" x2="288.90" y2="1485.00" stroke="#000" stroke-width="2.2"/>
<line x1="280.40" y1="1484.30" x2="280.40" y2="1484.80" stroke="#000" stroke-width="2.2"/>
<line x1="535.40" y1="1484.30" x2="535.40" y2="1488.10" stroke="#000" stroke-width="2.2"/>
<line x1="543.70" y1="1484.30" x2="543.70" y2="1491.30" stroke="#000" stroke-width="2.2"/>
<line x1="552.70" y1="1484.30" x2="552.70" y2="1490.10" stroke="#000" stroke-width="2.2"/>
<line x1="560.90" y1="1484.30" x2="560.90" y2="1493.90" stroke="#000" stroke-width="2.2"/>
<line x1="569.20" y1="1484.30" x2="569.20" y2="1490.10" stroke="#000" stroke-width="2.2"/>
<line x1="578.20" y1="1484.30" x2="578.20" y2="1488.10" stroke="#000" stroke-width="2.2"/>
<line x1="586.10" y1="1484.30" x2="586.10" y2="1497.70" stroke="#000" stroke-width="2.2"/>
<line x1="594.70" y1="1484.30" x2="594.70" y2="1504.10" stroke="#000" stroke-width="2.2"/>
<line x1="359.52" y1="1847.69" x2="359.52" y2="1649.06" stroke="#4bb8d6" stroke-width="2.2"/>
<line x1="355.02" y1="1847.69" x2="364.02" y2="1847.69" stroke="#4bb8d6" stroke-width="2.6"/>
<line x1="355.02" y1="1649.06" x2="364.02" y2="1649.06" stroke="#4bb8d6" stroke-width="2.6"/>
<line x1="578.56" y1="1526.98" x2="578.56" y2="1499.60" stroke="#4bb8d6" stroke-width="2.2"/>
<line x1="574.06" y1="1526.98" x2="583.06" y2="1526.98" stroke="#4bb8d6" stroke-width="2.6"/>
<line x1="574.06" y1="1499.60" x2="583.06" y2="1499.60" stroke="#4bb8d6" stroke-width="2.6"/>
<line x1="359.52" y1="1755.13" x2="578.56" y2="1510.21" stroke="#4bb8d6" stroke-width="3.0"/>
<path d="M351.22,1737.18L367.82,1753.78M351.22,1753.78L367.82,1737.18" stroke="#1d3f9e" stroke-width="2.6" fill="none"/>
<path d="M570.26,1510.59L586.86,1527.18M570.26,1527.18L586.86,1510.59" stroke="#1d3f9e" stroke-width="2.6" fill="none"/>
<circle cx="359.52" cy="1755.13" r="7.6" fill="#4bb8d6"/>
<circle cx="578.56" cy="1510.21" r="7.6" fill="#4bb8d6"/>
<rect x="198.80" y="1483.30" width="418.90" height="417.50" fill="none" stroke="#000" stroke-width="2.8"/>
<line x1="213.50" y1="1900.80" x2="213.50" y2="1910.80" stroke="#000" stroke-width="2.6"/>
<text transform="translate(201.24,1931.40)" font-family='"Liberation Sans", Arial, sans-serif' font-size="17.7">0.6</text>
<line x1="310.85" y1="1900.80" x2="310.85" y2="1910.80" stroke="#000" stroke-width="2.6"/>
<text transform="translate(298.64,1931.40)" font-family='"Liberation Sans", Arial, sans-serif' font-size="17.7">0.7</text>
<line x1="408.20" y1="1900.80" x2="408.20" y2="1910.80" stroke="#000" stroke-width="2.6"/>
<text transform="translate(395.90,1931.40)" font-family='"Liberation Sans", Arial, sans-serif' font-size="17.7">0.8</text>
<line x1="505.55" y1="1900.80" x2="505.55" y2="1910.80" stroke="#000" stroke-width="2.6"/>
<text transform="translate(493.29,1931.40)" font-family='"Liberation Sans", Arial, sans-serif' font-size="17.7">0.9</text>
<line x1="602.90" y1="1900.80" x2="602.90" y2="1910.80" stroke="#000" stroke-width="2.6"/>
<text transform="translate(590.29,1931.40)" font-family='"Liberation Sans", Arial, sans-serif' font-size="17.7">1.0</text>
<line x1="188.80" y1="1885.30" x2="198.80" y2="1885.30" stroke="#000" stroke-width="2.6"/>
<text transform="translate(161.89,1891.80)" font-family='"Liberation Sans", Arial, sans-serif' font-size="17.7">0.6</text>
<line x1="188.80" y1="1788.88" x2="198.80" y2="1788.88" stroke="#000" stroke-width="2.6"/>
<text transform="translate(161.98,1795.38)" font-family='"Liberation Sans", Arial, sans-serif' font-size="17.7">0.7</text>
<line x1="188.80" y1="1692.45" x2="198.80" y2="1692.45" stroke="#000" stroke-width="2.6"/>
<text transform="translate(161.81,1698.95)" font-family='"Liberation Sans", Arial, sans-serif' font-size="17.7">0.8</text>
<line x1="188.80" y1="1596.02" x2="198.80" y2="1596.02" stroke="#000" stroke-width="2.6"/>
<text transform="translate(161.89,1602.52)" font-family='"Liberation Sans", Arial, sans-serif' font-size="17.7">0.9</text>
<line x1="188.80" y1="1499.60" x2="198.80" y2="1499.60" stroke="#000" stroke-width="2.6"/>
<text transform="translate(161.81,1506.10)" font-family='"Liberation Sans", Arial, sans-serif' font-size="17.7">1.0</text>
<text transform="translate(217.39,1963.80) scale(1.0066,1)" font-family='"Liberation Sans", Arial, sans-serif' font-size="21.2">Nomogram predicted survival probability</text>
<text transform="translate(140.60,1862.98) rotate(-90) scale(1.0019,1)" font-family='"Liberation Sans", Arial, sans-serif' font-size="20.7">Observed fraction survival probability</text>
<line x1="489.70" y1="1860.20" x2="520.70" y2="1860.20" stroke="#4bb8d6" stroke-width="3.0" stroke-linecap="round"/>
<line x1="489.70" y1="1880.60" x2="520.70" y2="1880.60" stroke="#bdbdbd" stroke-width="3.0" stroke-linecap="round"/>
<text transform="translate(536.30,1867.00) scale(1.0222,1)" font-family='"Liberation Sans", Arial, sans-serif' font-size="17.7">2−Year</text>
<text transform="translate(535.54,1886.70) scale(1.0437,1)" font-family='"Liberation Sans", Arial, sans-serif' font-size="17.7">Ideal line</text>
</g>
<g>
<clipPath id="cp7131483"><rect x="713.5" y="1483.9" width="418.9000000000001" height="417.1999999999998"/></clipPath>
<line x1="600.27" y1="2014.30" x2="1245.93" y2="1370.30" stroke="#e4e4e4" stroke-width="3" clip-path="url(#cp7131483)"/>
<line x1="901.47" y1="1484.90" x2="901.47" y2="1485.63" stroke="#000" stroke-width="2.2"/>
<line x1="914.23" y1="1484.90" x2="914.23" y2="1486.07" stroke="#000" stroke-width="2.2"/>
<line x1="920.54" y1="1484.90" x2="920.54" y2="1485.63" stroke="#000" stroke-width="2.2"/>
<line x1="927.14" y1="1484.90" x2="927.14" y2="1486.07" stroke="#000" stroke-width="2.2"/>
<line x1="933.45" y1="1484.90" x2="933.45" y2="1487.54" stroke="#000" stroke-width="2.2"/>
<line x1="939.90" y1="1484.90" x2="939.90" y2="1485.63" stroke="#000" stroke-width="2.2"/>
<line x1="946.21" y1="1484.90" x2="946.21" y2="1488.13" stroke="#000" stroke-width="2.2"/>
<line x1="952.37" y1="1484.90" x2="952.37" y2="1487.54" stroke="#000" stroke-width="2.2"/>
<line x1="958.68" y1="1484.90" x2="958.68" y2="1485.63" stroke="#000" stroke-width="2.2"/>
<line x1="964.98" y1="1484.90" x2="964.98" y2="1485.63" stroke="#000" stroke-width="2.2"/>
<line x1="971.44" y1="1484.90" x2="971.44" y2="1486.07" stroke="#000" stroke-width="2.2"/>
<line x1="977.75" y1="1484.90" x2="977.75" y2="1487.25" stroke="#000" stroke-width="2.2"/>
<line x1="983.91" y1="1484.90" x2="983.91" y2="1487.83" stroke="#000" stroke-width="2.2"/>
<line x1="990.22" y1="1484.90" x2="990.22" y2="1485.63" stroke="#000" stroke-width="2.2"/>
<line x1="996.52" y1="1484.90" x2="996.52" y2="1488.13" stroke="#000" stroke-width="2.2"/>
<line x1="1002.68" y1="1484.90" x2="1002.68" y2="1489.30" stroke="#000" stroke-width="2.2"/>
<line x1="1008.99" y1="1484.90" x2="1008.99" y2="1491.79" stroke="#000" stroke-width="2.2"/>
<line x1="1015.45" y1="1484.90" x2="1015.45" y2="1492.23" stroke="#000" stroke-width="2.2"/>
<line x1="1022.05" y1="1484.90" x2="1022.05" y2="1490.03" stroke="#000" stroke-width="2.2"/>
<line x1="1028.36" y1="1484.90" x2="1028.36" y2="1489.30" stroke="#000" stroke-width="2.2"/>
<line x1="1034.66" y1="1484.90" x2="1034.66" y2="1488.13" stroke="#000" stroke-width="2.2"/>
<line x1="1040.82" y1="1484.90" x2="1040.82" y2="1494.14" stroke="#000" stroke-width="2.2"/>
<line x1="1047.43" y1="1484.90" x2="1047.43" y2="1494.88" stroke="#000" stroke-width="2.2"/>
<line x1="1053.59" y1="1484.90" x2="1053.59" y2="1488.13" stroke="#000" stroke-width="2.2"/>
<line x1="1059.89" y1="1484.90" x2="1059.89" y2="1489.30" stroke="#000" stroke-width="2.2"/>
<line x1="1066.20" y1="1484.90" x2="1066.20" y2="1488.13" stroke="#000" stroke-width="2.2"/>
<line x1="1072.66" y1="1484.90" x2="1072.66" y2="1488.13" stroke="#000" stroke-width="2.2"/>
<line x1="1078.67" y1="1484.90" x2="1078.67" y2="1491.94" stroke="#000" stroke-width="2.2"/>
<line x1="1085.13" y1="1484.90" x2="1085.13" y2="1498.84" stroke="#000" stroke-width="2.2"/>
<line x1="1091.43" y1="1484.90" x2="1091.43" y2="1500.74" stroke="#000" stroke-width="2.2"/>
<line x1="1098.03" y1="1484.90" x2="1098.03" y2="1505.00" stroke="#000" stroke-width="2.2"/>
<line x1="1104.34" y1="1484.90" x2="1104.34" y2="1496.20" stroke="#000" stroke-width="2.2"/>
<line x1="895.10" y1="1484.90" x2="895.10" y2="1485.90" stroke="#000" stroke-width="2.2"/>
<line x1="888.73" y1="1484.90" x2="888.73" y2="1485.60" stroke="#000" stroke-width="2.2"/>
<line x1="882.36" y1="1484.90" x2="882.36" y2="1485.40" stroke="#000" stroke-width="2.2"/>
<line x1="875.99" y1="1484.90" x2="875.99" y2="1485.60" stroke="#000" stroke-width="2.2"/>
<line x1="869.62" y1="1484.90" x2="869.62" y2="1485.90" stroke="#000" stroke-width="2.2"/>
<line x1="863.25" y1="1484.90" x2="863.25" y2="1485.40" stroke="#000" stroke-width="2.2"/>
<line x1="856.88" y1="1484.90" x2="856.88" y2="1485.40" stroke="#000" stroke-width="2.2"/>
<line x1="850.51" y1="1484.90" x2="850.51" y2="1485.40" stroke="#000" stroke-width="2.2"/>
<line x1="844.14" y1="1484.90" x2="844.14" y2="1485.60" stroke="#000" stroke-width="2.2"/>
<line x1="837.77" y1="1484.90" x2="837.77" y2="1486.20" stroke="#000" stroke-width="2.2"/>
<line x1="831.40" y1="1484.90" x2="831.40" y2="1486.20" stroke="#000" stroke-width="2.2"/>
<line x1="825.03" y1="1484.90" x2="825.03" y2="1485.90" stroke="#000" stroke-width="2.2"/>
<line x1="818.66" y1="1484.90" x2="818.66" y2="1486.20" stroke="#000" stroke-width="2.2"/>
<line x1="812.29" y1="1484.90" x2="812.29" y2="1486.20" stroke="#000" stroke-width="2.2"/>
<line x1="805.92" y1="1484.90" x2="805.92" y2="1485.90" stroke="#000" stroke-width="2.2"/>
<line x1="799.55" y1="1484.90" x2="799.55" y2="1485.90" stroke="#000" stroke-width="2.2"/>
<line x1="793.18" y1="1484.90" x2="793.18" y2="1485.60" stroke="#000" stroke-width="2.2"/>
<line x1="786.81" y1="1484.90" x2="786.81" y2="1485.60" stroke="#000" stroke-width="2.2"/>
<line x1="780.44" y1="1484.90" x2="780.44" y2="1485.60" stroke="#000" stroke-width="2.2"/>
<line x1="774.07" y1="1484.90" x2="774.07" y2="1485.40" stroke="#000" stroke-width="2.2"/>
<line x1="767.70" y1="1484.90" x2="767.70" y2="1485.90" stroke="#000" stroke-width="2.2"/>
<line x1="761.33" y1="1484.90" x2="761.33" y2="1486.20" stroke="#000" stroke-width="2.2"/>
<line x1="754.96" y1="1484.90" x2="754.96" y2="1485.90" stroke="#000" stroke-width="2.2"/>
<line x1="748.59" y1="1484.90" x2="748.59" y2="1486.20" stroke="#000" stroke-width="2.2"/>
<line x1="742.22" y1="1484.90" x2="742.22" y2="1485.90" stroke="#000" stroke-width="2.2"/>
<line x1="735.85" y1="1484.90" x2="735.85" y2="1485.40" stroke="#000" stroke-width="2.2"/>
<line x1="729.48" y1="1484.90" x2="729.48" y2="1485.40" stroke="#000" stroke-width="2.2"/>
<line x1="723.11" y1="1484.90" x2="723.11" y2="1486.20" stroke="#000" stroke-width="2.2"/>
<line x1="839.81" y1="1852.01" x2="839.81" y2="1683.28" stroke="#4bb8d6" stroke-width="2.2"/>
<line x1="835.31" y1="1852.01" x2="844.31" y2="1852.01" stroke="#4bb8d6" stroke-width="2.6"/>
<line x1="835.31" y1="1683.28" x2="844.31" y2="1683.28" stroke="#4bb8d6" stroke-width="2.6"/>
<line x1="1075.48" y1="1568.01" x2="1075.48" y2="1499.10" stroke="#4bb8d6" stroke-width="2.2"/>
<line x1="1070.98" y1="1568.01" x2="1079.98" y2="1568.01" stroke="#4bb8d6" stroke-width="2.6"/>
<line x1="1070.98" y1="1499.10" x2="1079.98" y2="1499.10" stroke="#4bb8d6" stroke-width="2.6"/>
<line x1="839.81" y1="1776.66" x2="1075.48" y2="1531.30" stroke="#4bb8d6" stroke-width="3.0"/>
<path d="M831.51,1764.50L848.11,1781.10M831.51,1781.10L848.11,1764.50" stroke="#1d3f9e" stroke-width="2.6" fill="none"/>
<path d="M1067.18,1531.37L1083.78,1547.97M1067.18,1547.97L1083.78,1531.37" stroke="#1d3f9e" stroke-width="2.6" fill="none"/>
<circle cx="839.81" cy="1776.66" r="7.6" fill="#4bb8d6"/>
<circle cx="1075.48" cy="1531.30" r="7.6" fill="#4bb8d6"/>
<rect x="713.50" y="1483.90" width="418.90" height="417.20" fill="none" stroke="#000" stroke-width="2.8"/>
<line x1="729.40" y1="1901.10" x2="729.40" y2="1911.10" stroke="#000" stroke-width="2.6"/>
<text transform="translate(717.01,1931.70)" font-family='"Liberation Sans", Arial, sans-serif' font-size="17.7">0.4</text>
<line x1="793.97" y1="1901.10" x2="793.97" y2="1911.10" stroke="#000" stroke-width="2.6"/>
<text transform="translate(781.67,1931.70)" font-family='"Liberation Sans", Arial, sans-serif' font-size="17.7">0.5</text>
<line x1="858.53" y1="1901.10" x2="858.53" y2="1911.10" stroke="#000" stroke-width="2.6"/>
<text transform="translate(846.28,1931.70)" font-family='"Liberation Sans", Arial, sans-serif' font-size="17.7">0.6</text>
<line x1="923.10" y1="1901.10" x2="923.10" y2="1911.10" stroke="#000" stroke-width="2.6"/>
<text transform="translate(910.89,1931.70)" font-family='"Liberation Sans", Arial, sans-serif' font-size="17.7">0.7</text>
<line x1="987.67" y1="1901.10" x2="987.67" y2="1911.10" stroke="#000" stroke-width="2.6"/>
<text transform="translate(975.37,1931.70)" font-family='"Liberation Sans", Arial, sans-serif' font-size="17.7">0.8</text>
<line x1="1052.23" y1="1901.10" x2="1052.23" y2="1911.10" stroke="#000" stroke-width="2.6"/>
<text transform="translate(1039.98,1931.70)" font-family='"Liberation Sans", Arial, sans-serif' font-size="17.7">0.9</text>
<line x1="1116.80" y1="1901.10" x2="1116.80" y2="1911.10" stroke="#000" stroke-width="2.6"/>
<text transform="translate(1104.19,1931.70)" font-family='"Liberation Sans", Arial, sans-serif' font-size="17.7">1.0</text>
<line x1="703.50" y1="1885.50" x2="713.50" y2="1885.50" stroke="#000" stroke-width="2.6"/>
<text transform="translate(676.33,1892.00)" font-family='"Liberation Sans", Arial, sans-serif' font-size="17.7">0.4</text>
<line x1="703.50" y1="1821.10" x2="713.50" y2="1821.10" stroke="#000" stroke-width="2.6"/>
<text transform="translate(676.50,1827.60)" font-family='"Liberation Sans", Arial, sans-serif' font-size="17.7">0.5</text>
<line x1="703.50" y1="1756.70" x2="713.50" y2="1756.70" stroke="#000" stroke-width="2.6"/>
<text transform="translate(676.59,1763.20)" font-family='"Liberation Sans", Arial, sans-serif' font-size="17.7">0.6</text>
<line x1="703.50" y1="1692.30" x2="713.50" y2="1692.30" stroke="#000" stroke-width="2.6"/>
<text transform="translate(676.68,1698.80)" font-family='"Liberation Sans", Arial, sans-serif' font-size="17.7">0.7</text>
<line x1="703.50" y1="1627.90" x2="713.50" y2="1627.90" stroke="#000" stroke-width="2.6"/>
<text transform="translate(676.50,1634.40)" font-family='"Liberation Sans", Arial, sans-serif' font-size="17.7">0.8</text>
<line x1="703.50" y1="1563.50" x2="713.50" y2="1563.50" stroke="#000" stroke-width="2.6"/>
<text transform="translate(676.59,1570.00)" font-family='"Liberation Sans", Arial, sans-serif' font-size="17.7">0.9</text>
<line x1="703.50" y1="1499.10" x2="713.50" y2="1499.10" stroke="#000" stroke-width="2.6"/>
<text transform="translate(676.50,1505.60)" font-family='"Liberation Sans", Arial, sans-serif' font-size="17.7">1.0</text>
<text transform="translate(732.09,1964.10) scale(1.0066,1)" font-family='"Liberation Sans", Arial, sans-serif' font-size="21.2">Nomogram predicted survival probability</text>
<text transform="translate(655.30,1863.43) rotate(-90) scale(1.0019,1)" font-family='"Liberation Sans", Arial, sans-serif' font-size="20.7">Observed fraction survival probability</text>
<line x1="1004.40" y1="1860.50" x2="1035.40" y2="1860.50" stroke="#4bb8d6" stroke-width="3.0" stroke-linecap="round"/>
<line x1="1004.40" y1="1880.90" x2="1035.40" y2="1880.90" stroke="#bdbdbd" stroke-width="3.0" stroke-linecap="round"/>
<text transform="translate(1051.18,1867.30) scale(1.0190,1)" font-family='"Liberation Sans", Arial, sans-serif' font-size="17.7">3−Year</text>
<text transform="translate(1050.24,1887.00) scale(1.0437,1)" font-family='"Liberation Sans", Arial, sans-serif' font-size="17.7">Ideal line</text>
</g>
<g>
<clipPath id="cp12281483"><rect x="1228.9" y="1483.3" width="419.79999999999995" height="417.79999999999995"/></clipPath>
<line x1="1133.40" y1="1995.84" x2="1742.80" y2="1388.96" stroke="#e4e4e4" stroke-width="3" clip-path="url(#cp12281483)"/>
<line x1="1422.93" y1="1484.30" x2="1422.93" y2="1485.03" stroke="#000" stroke-width="2.2"/>
<line x1="1428.80" y1="1484.30" x2="1428.80" y2="1485.03" stroke="#000" stroke-width="2.2"/>
<line x1="1440.54" y1="1484.30" x2="1440.54" y2="1486.50" stroke="#000" stroke-width="2.2"/>
<line x1="1445.67" y1="1484.30" x2="1445.67" y2="1486.50" stroke="#000" stroke-width="2.2"/>
<line x1="1455.94" y1="1484.30" x2="1455.94" y2="1487.23" stroke="#000" stroke-width="2.2"/>
<line x1="1461.81" y1="1484.30" x2="1461.81" y2="1486.50" stroke="#000" stroke-width="2.2"/>
<line x1="1472.81" y1="1484.30" x2="1472.81" y2="1485.03" stroke="#000" stroke-width="2.2"/>
<line x1="1478.68" y1="1484.30" x2="1478.68" y2="1485.47" stroke="#000" stroke-width="2.2"/>
<line x1="1483.08" y1="1484.30" x2="1483.08" y2="1487.23" stroke="#000" stroke-width="2.2"/>
<line x1="1494.08" y1="1484.30" x2="1494.08" y2="1486.06" stroke="#000" stroke-width="2.2"/>
<line x1="1499.21" y1="1484.30" x2="1499.21" y2="1485.03" stroke="#000" stroke-width="2.2"/>
<line x1="1505.08" y1="1484.30" x2="1505.08" y2="1486.50" stroke="#000" stroke-width="2.2"/>
<line x1="1510.22" y1="1484.30" x2="1510.22" y2="1486.50" stroke="#000" stroke-width="2.2"/>
<line x1="1516.08" y1="1484.30" x2="1516.08" y2="1489.87" stroke="#000" stroke-width="2.2"/>
<line x1="1521.22" y1="1484.30" x2="1521.22" y2="1489.87" stroke="#000" stroke-width="2.2"/>
<line x1="1526.35" y1="1484.30" x2="1526.35" y2="1487.23" stroke="#000" stroke-width="2.2"/>
<line x1="1531.93" y1="1484.30" x2="1531.93" y2="1487.97" stroke="#000" stroke-width="2.2"/>
<line x1="1537.35" y1="1484.30" x2="1537.35" y2="1488.70" stroke="#000" stroke-width="2.2"/>
<line x1="1542.49" y1="1484.30" x2="1542.49" y2="1486.50" stroke="#000" stroke-width="2.2"/>
<line x1="1548.36" y1="1484.30" x2="1548.36" y2="1488.70" stroke="#000" stroke-width="2.2"/>
<line x1="1553.49" y1="1484.30" x2="1553.49" y2="1493.10" stroke="#000" stroke-width="2.2"/>
<line x1="1558.62" y1="1484.30" x2="1558.62" y2="1491.19" stroke="#000" stroke-width="2.2"/>
<line x1="1564.49" y1="1484.30" x2="1564.49" y2="1487.23" stroke="#000" stroke-width="2.2"/>
<line x1="1569.63" y1="1484.30" x2="1569.63" y2="1486.50" stroke="#000" stroke-width="2.2"/>
<line x1="1575.20" y1="1484.30" x2="1575.20" y2="1488.41" stroke="#000" stroke-width="2.2"/>
<line x1="1580.63" y1="1484.30" x2="1580.63" y2="1485.03" stroke="#000" stroke-width="2.2"/>
<line x1="1586.06" y1="1484.30" x2="1586.06" y2="1488.70" stroke="#000" stroke-width="2.2"/>
<line x1="1591.34" y1="1484.30" x2="1591.34" y2="1489.87" stroke="#000" stroke-width="2.2"/>
<line x1="1596.76" y1="1484.30" x2="1596.76" y2="1491.93" stroke="#000" stroke-width="2.2"/>
<line x1="1602.19" y1="1484.30" x2="1602.19" y2="1495.74" stroke="#000" stroke-width="2.2"/>
<line x1="1607.47" y1="1484.30" x2="1607.47" y2="1504.10" stroke="#000" stroke-width="2.2"/>
<line x1="1612.90" y1="1484.30" x2="1612.90" y2="1493.10" stroke="#000" stroke-width="2.2"/>
<line x1="1618.33" y1="1484.30" x2="1618.33" y2="1493.83" stroke="#000" stroke-width="2.2"/>
<line x1="1417.58" y1="1484.30" x2="1417.58" y2="1485.00" stroke="#000" stroke-width="2.2"/>
<line x1="1412.23" y1="1484.30" x2="1412.23" y2="1485.30" stroke="#000" stroke-width="2.2"/>
<line x1="1406.88" y1="1484.30" x2="1406.88" y2="1485.00" stroke="#000" stroke-width="2.2"/>
<line x1="1401.53" y1="1484.30" x2="1401.53" y2="1485.60" stroke="#000" stroke-width="2.2"/>
<line x1="1396.18" y1="1484.30" x2="1396.18" y2="1485.60" stroke="#000" stroke-width="2.2"/>
<line x1="1390.83" y1="1484.30" x2="1390.83" y2="1484.80" stroke="#000" stroke-width="2.2"/>
<line x1="1385.48" y1="1484.30" x2="1385.48" y2="1484.80" stroke="#000" stroke-width="2.2"/>
<line x1="1380.13" y1="1484.30" x2="1380.13" y2="1486.10" stroke="#000" stroke-width="2.2"/>
<line x1="1374.78" y1="1484.30" x2="1374.78" y2="1486.10" stroke="#000" stroke-width="2.2"/>
<line x1="1369.43" y1="1484.30" x2="1369.43" y2="1485.30" stroke="#000" stroke-width="2.2"/>
<line x1="1364.08" y1="1484.30" x2="1364.08" y2="1485.30" stroke="#000" stroke-width="2.2"/>
<line x1="1358.73" y1="1484.30" x2="1358.73" y2="1485.30" stroke="#000" stroke-width="2.2"/>
<line x1="1353.38" y1="1484.30" x2="1353.38" y2="1486.10" stroke="#000" stroke-width="2.2"/>
<line x1="1348.03" y1="1484.30" x2="1348.03" y2="1485.60" stroke="#000" stroke-width="2.2"/>
<line x1="1342.68" y1="1484.30" x2="1342.68" y2="1486.10" stroke="#000" stroke-width="2.2"/>
<line x1="1337.33" y1="1484.30" x2="1337.33" y2="1485.60" stroke="#000" stroke-width="2.2"/>
<line x1="1331.98" y1="1484.30" x2="1331.98" y2="1484.80" stroke="#000" stroke-width="2.2"/>
<line x1="1326.63" y1="1484.30" x2="1326.63" y2="1484.80" stroke="#000" stroke-width="2.2"/>
<line x1="1321.28" y1="1484.30" x2="1321.28" y2="1485.30" stroke="#000" stroke-width="2.2"/>
<line x1="1315.93" y1="1484.30" x2="1315.93" y2="1485.60" stroke="#000" stroke-width="2.2"/>
<line x1="1310.58" y1="1484.30" x2="1310.58" y2="1484.80" stroke="#000" stroke-width="2.2"/>
<line x1="1305.23" y1="1484.30" x2="1305.23" y2="1484.80" stroke="#000" stroke-width="2.2"/>
<line x1="1299.88" y1="1484.30" x2="1299.88" y2="1485.30" stroke="#000" stroke-width="2.2"/>
<line x1="1294.53" y1="1484.30" x2="1294.53" y2="1486.10" stroke="#000" stroke-width="2.2"/>
<line x1="1289.18" y1="1484.30" x2="1289.18" y2="1485.60" stroke="#000" stroke-width="2.2"/>
<line x1="1283.83" y1="1484.30" x2="1283.83" y2="1485.30" stroke="#000" stroke-width="2.2"/>
<line x1="1278.48" y1="1484.30" x2="1278.48" y2="1485.60" stroke="#000" stroke-width="2.2"/>
<line x1="1273.13" y1="1484.30" x2="1273.13" y2="1485.30" stroke="#000" stroke-width="2.2"/>
<line x1="1267.78" y1="1484.30" x2="1267.78" y2="1484.80" stroke="#000" stroke-width="2.2"/>
<line x1="1262.43" y1="1484.30" x2="1262.43" y2="1485.60" stroke="#000" stroke-width="2.2"/>
<line x1="1257.08" y1="1484.30" x2="1257.08" y2="1485.30" stroke="#000" stroke-width="2.2"/>
<line x1="1251.73" y1="1484.30" x2="1251.73" y2="1485.00" stroke="#000" stroke-width="2.2"/>
<line x1="1246.38" y1="1484.30" x2="1246.38" y2="1486.10" stroke="#000" stroke-width="2.2"/>
<line x1="1241.03" y1="1484.30" x2="1241.03" y2="1484.80" stroke="#000" stroke-width="2.2"/>
<line x1="1371.40" y1="1833.91" x2="1371.40" y2="1679.71" stroke="#4bb8d6" stroke-width="2.2"/>
<line x1="1366.90" y1="1833.91" x2="1375.90" y2="1833.91" stroke="#4bb8d6" stroke-width="2.6"/>
<line x1="1366.90" y1="1679.71" x2="1375.90" y2="1679.71" stroke="#4bb8d6" stroke-width="2.6"/>
<line x1="1588.79" y1="1557.78" x2="1588.79" y2="1499.30" stroke="#4bb8d6" stroke-width="2.2"/>
<line x1="1584.29" y1="1557.78" x2="1593.29" y2="1557.78" stroke="#4bb8d6" stroke-width="2.6"/>
<line x1="1584.29" y1="1499.30" x2="1593.29" y2="1499.30" stroke="#4bb8d6" stroke-width="2.6"/>
<line x1="1371.40" y1="1767.98" x2="1588.79" y2="1526.89" stroke="#4bb8d6" stroke-width="3.0"/>
<path d="M1363.10,1751.41L1379.70,1768.01M1363.10,1768.01L1379.70,1751.41" stroke="#1d3f9e" stroke-width="2.6" fill="none"/>
<path d="M1580.49,1529.62L1597.09,1546.22M1580.49,1546.22L1597.09,1529.62" stroke="#1d3f9e" stroke-width="2.6" fill="none"/>
<circle cx="1371.40" cy="1767.98" r="7.6" fill="#4bb8d6"/>
<circle cx="1588.79" cy="1526.89" r="7.6" fill="#4bb8d6"/>
<rect x="1228.90" y="1483.30" width="419.80" height="417.80" fill="none" stroke="#000" stroke-width="2.8"/>
<line x1="1244.20" y1="1901.10" x2="1244.20" y2="1911.10" stroke="#000" stroke-width="2.6"/>
<text transform="translate(1231.94,1931.70)" font-family='"Liberation Sans", Arial, sans-serif' font-size="17.7">0.3</text>
<line x1="1299.60" y1="1901.10" x2="1299.60" y2="1911.10" stroke="#000" stroke-width="2.6"/>
<text transform="translate(1287.21,1931.70)" font-family='"Liberation Sans", Arial, sans-serif' font-size="17.7">0.4</text>
<line x1="1355.00" y1="1901.10" x2="1355.00" y2="1911.10" stroke="#000" stroke-width="2.6"/>
<text transform="translate(1342.70,1931.70)" font-family='"Liberation Sans", Arial, sans-serif' font-size="17.7">0.5</text>
<line x1="1410.40" y1="1901.10" x2="1410.40" y2="1911.10" stroke="#000" stroke-width="2.6"/>
<text transform="translate(1398.14,1931.70)" font-family='"Liberation Sans", Arial, sans-serif' font-size="17.7">0.6</text>
<line x1="1465.80" y1="1901.10" x2="1465.80" y2="1911.10" stroke="#000" stroke-width="2.6"/>
<text transform="translate(1453.59,1931.70)" font-family='"Liberation Sans", Arial, sans-serif' font-size="17.7">0.7</text>
<line x1="1521.20" y1="1901.10" x2="1521.20" y2="1911.10" stroke="#000" stroke-width="2.6"/>
<text transform="translate(1508.90,1931.70)" font-family='"Liberation Sans", Arial, sans-serif' font-size="17.7">0.8</text>
<line x1="1576.60" y1="1901.10" x2="1576.60" y2="1911.10" stroke="#000" stroke-width="2.6"/>
<text transform="translate(1564.34,1931.70)" font-family='"Liberation Sans", Arial, sans-serif' font-size="17.7">0.9</text>
<line x1="1632.00" y1="1901.10" x2="1632.00" y2="1911.10" stroke="#000" stroke-width="2.6"/>
<text transform="translate(1619.39,1931.70)" font-family='"Liberation Sans", Arial, sans-serif' font-size="17.7">1.0</text>
<line x1="1218.90" y1="1885.50" x2="1228.90" y2="1885.50" stroke="#000" stroke-width="2.6"/>
<text transform="translate(1191.99,1892.00)" font-family='"Liberation Sans", Arial, sans-serif' font-size="17.7">0.3</text>
<line x1="1218.90" y1="1830.33" x2="1228.90" y2="1830.33" stroke="#000" stroke-width="2.6"/>
<text transform="translate(1191.73,1836.83)" font-family='"Liberation Sans", Arial, sans-serif' font-size="17.7">0.4</text>
<line x1="1218.90" y1="1775.16" x2="1228.90" y2="1775.16" stroke="#000" stroke-width="2.6"/>
<text transform="translate(1191.91,1781.66)" font-family='"Liberation Sans", Arial, sans-serif' font-size="17.7">0.5</text>
<line x1="1218.90" y1="1719.99" x2="1228.90" y2="1719.99" stroke="#000" stroke-width="2.6"/>
<text transform="translate(1191.99,1726.49)" font-family='"Liberation Sans", Arial, sans-serif' font-size="17.7">0.6</text>
<line x1="1218.90" y1="1664.81" x2="1228.90" y2="1664.81" stroke="#000" stroke-width="2.6"/>
<text transform="translate(1192.08,1671.31)" font-family='"Liberation Sans", Arial, sans-serif' font-size="17.7">0.7</text>
<line x1="1218.90" y1="1609.64" x2="1228.90" y2="1609.64" stroke="#000" stroke-width="2.6"/>
<text transform="translate(1191.91,1616.14)" font-family='"Liberation Sans", Arial, sans-serif' font-size="17.7">0.8</text>
<line x1="1218.90" y1="1554.47" x2="1228.90" y2="1554.47" stroke="#000" stroke-width="2.6"/>
<text transform="translate(1191.99,1560.97)" font-family='"Liberation Sans", Arial, sans-serif' font-size="17.7">0.9</text>
<line x1="1218.90" y1="1499.30" x2="1228.90" y2="1499.30" stroke="#000" stroke-width="2.6"/>
<text transform="translate(1191.90,1505.80)" font-family='"Liberation Sans", Arial, sans-serif' font-size="17.7">1.0</text>
<text transform="translate(1247.94,1964.10) scale(1.0066,1)" font-family='"Liberation Sans", Arial, sans-serif' font-size="21.2">Nomogram predicted survival probability</text>
<text transform="translate(1170.70,1863.13) rotate(-90) scale(1.0019,1)" font-family='"Liberation Sans", Arial, sans-serif' font-size="20.7">Observed fraction survival probability</text>
<line x1="1520.70" y1="1860.50" x2="1551.70" y2="1860.50" stroke="#4bb8d6" stroke-width="3.0" stroke-linecap="round"/>
<line x1="1520.70" y1="1880.90" x2="1551.70" y2="1880.90" stroke="#bdbdbd" stroke-width="3.0" stroke-linecap="round"/>
<text transform="translate(1567.48,1867.30) scale(1.0190,1)" font-family='"Liberation Sans", Arial, sans-serif' font-size="17.7">5−Year</text>
<text transform="translate(1566.54,1887.00) scale(1.0437,1)" font-family='"Liberation Sans", Arial, sans-serif' font-size="17.7">Ideal line</text>
</g>
<g>
<clipPath id="cp1982005"><rect x="198.8" y="2005.7" width="418.8" height="415.89999999999986"/></clipPath>
<line x1="83.70" y1="2535.87" x2="732.70" y2="1891.03" stroke="#e4e4e4" stroke-width="3" clip-path="url(#cp1982005)"/>
<line x1="289.80" y1="2006.70" x2="289.80" y2="2014.20" stroke="#000" stroke-width="1.0"/>
<line x1="305.10" y1="2006.70" x2="305.10" y2="2014.20" stroke="#000" stroke-width="1.0"/>
<line x1="321.54" y1="2006.70" x2="321.54" y2="2014.20" stroke="#000" stroke-width="1.0"/>
<line x1="332.59" y1="2006.70" x2="332.59" y2="2014.20" stroke="#000" stroke-width="1.0"/>
<line x1="324.25" y1="2006.70" x2="324.25" y2="2014.20" stroke="#000" stroke-width="1.0"/>
<line x1="336.96" y1="2006.70" x2="336.96" y2="2014.20" stroke="#000" stroke-width="1.0"/>
<line x1="326.66" y1="2006.70" x2="326.66" y2="2014.20" stroke="#000" stroke-width="1.0"/>
<line x1="318.58" y1="2006.70" x2="318.58" y2="2014.20" stroke="#000" stroke-width="1.0"/>
<line x1="324.34" y1="2006.70" x2="324.34" y2="2014.20" stroke="#000" stroke-width="1.0"/>
<line x1="321.31" y1="2006.70" x2="321.31" y2="2014.20" stroke="#000" stroke-width="1.0"/>
<line x1="317.85" y1="2006.70" x2="317.85" y2="2014.20" stroke="#000" stroke-width="1.0"/>
<line x1="325.05" y1="2006.70" x2="325.05" y2="2014.20" stroke="#000" stroke-width="1.0"/>
<line x1="327.98" y1="2006.70" x2="327.98" y2="2014.20" stroke="#000" stroke-width="1.0"/>
<line x1="331.81" y1="2006.70" x2="331.81" y2="2014.20" stroke="#000" stroke-width="1.0"/>
<line x1="437.30" y1="2006.70" x2="437.30" y2="2014.20" stroke="#000" stroke-width="1.0"/>
<line x1="426.19" y1="2006.70" x2="426.19" y2="2014.20" stroke="#000" stroke-width="1.0"/>
<line x1="415.12" y1="2006.70" x2="415.12" y2="2014.20" stroke="#000" stroke-width="1.0"/>
<line x1="409.65" y1="2006.70" x2="409.65" y2="2014.20" stroke="#000" stroke-width="1.0"/>
<line x1="404.24" y1="2006.70" x2="404.24" y2="2014.20" stroke="#000" stroke-width="1.0"/>
<line x1="406.74" y1="2006.70" x2="406.74" y2="2014.20" stroke="#000" stroke-width="1.0"/>
<line x1="425.30" y1="2006.70" x2="425.30" y2="2014.20" stroke="#000" stroke-width="1.0"/>
<line x1="401.64" y1="2006.70" x2="401.64" y2="2014.20" stroke="#000" stroke-width="1.0"/>
<line x1="431.62" y1="2006.70" x2="431.62" y2="2014.20" stroke="#000" stroke-width="1.0"/>
<line x1="407.87" y1="2006.70" x2="407.87" y2="2014.20" stroke="#000" stroke-width="1.0"/>
<line x1="411.52" y1="2006.70" x2="411.52" y2="2014.20" stroke="#000" stroke-width="1.0"/>
<line x1="406.53" y1="2006.70" x2="406.53" y2="2014.20" stroke="#000" stroke-width="1.0"/>
<line x1="420.77" y1="2006.70" x2="420.77" y2="2014.20" stroke="#000" stroke-width="1.0"/>
<line x1="423.52" y1="2006.70" x2="423.52" y2="2014.20" stroke="#000" stroke-width="1.0"/>
<line x1="412.86" y1="2006.70" x2="412.86" y2="2014.20" stroke="#000" stroke-width="1.0"/>
<line x1="405.79" y1="2006.70" x2="405.79" y2="2014.20" stroke="#000" stroke-width="1.0"/>
<line x1="472.70" y1="2006.70" x2="472.70" y2="2014.20" stroke="#000" stroke-width="1.0"/>
<line x1="479.20" y1="2006.70" x2="479.20" y2="2014.20" stroke="#000" stroke-width="1.0"/>
<line x1="495.74" y1="2006.70" x2="495.74" y2="2014.20" stroke="#000" stroke-width="1.0"/>
<line x1="496.69" y1="2006.70" x2="496.69" y2="2014.20" stroke="#000" stroke-width="1.0"/>
<line x1="493.51" y1="2006.70" x2="493.51" y2="2014.20" stroke="#000" stroke-width="1.0"/>
<line x1="498.15" y1="2006.70" x2="498.15" y2="2014.20" stroke="#000" stroke-width="1.0"/>
<line x1="499.06" y1="2006.70" x2="499.06" y2="2014.20" stroke="#000" stroke-width="1.0"/>
<line x1="496.02" y1="2006.70" x2="496.02" y2="2014.20" stroke="#000" stroke-width="1.0"/>
<line x1="494.66" y1="2006.70" x2="494.66" y2="2014.20" stroke="#000" stroke-width="1.0"/>
<line x1="492.86" y1="2006.70" x2="492.86" y2="2014.20" stroke="#000" stroke-width="1.0"/>
<line x1="534.23" y1="2006.70" x2="534.23" y2="2014.20" stroke="#000" stroke-width="1.0"/>
<line x1="535.57" y1="2006.70" x2="535.57" y2="2014.20" stroke="#000" stroke-width="1.0"/>
<line x1="534.33" y1="2006.70" x2="534.33" y2="2014.20" stroke="#000" stroke-width="1.0"/>
<line x1="531.12" y1="2006.70" x2="531.12" y2="2014.20" stroke="#000" stroke-width="1.0"/>
<line x1="543.27" y1="2006.70" x2="543.27" y2="2014.20" stroke="#000" stroke-width="1.0"/>
<line x1="534.94" y1="2006.70" x2="534.94" y2="2014.20" stroke="#000" stroke-width="1.0"/>
<line x1="529.88" y1="2006.70" x2="529.88" y2="2014.20" stroke="#000" stroke-width="1.0"/>
<line x1="537.39" y1="2006.70" x2="537.39" y2="2014.20" stroke="#000" stroke-width="1.0"/>
<line x1="529.77" y1="2006.70" x2="529.77" y2="2014.20" stroke="#000" stroke-width="1.0"/>
<line x1="536.87" y1="2006.70" x2="536.87" y2="2014.20" stroke="#000" stroke-width="1.0"/>
<line x1="536.41" y1="2006.70" x2="536.41" y2="2014.20" stroke="#000" stroke-width="1.0"/>
<line x1="542.72" y1="2006.70" x2="542.72" y2="2014.20" stroke="#000" stroke-width="1.0"/>
<line x1="562.82" y1="2006.70" x2="562.82" y2="2014.20" stroke="#000" stroke-width="1.0"/>
<line x1="557.93" y1="2006.70" x2="557.93" y2="2014.20" stroke="#000" stroke-width="1.0"/>
<line x1="559.17" y1="2006.70" x2="559.17" y2="2014.20" stroke="#000" stroke-width="1.0"/>
<line x1="560.69" y1="2006.70" x2="560.69" y2="2014.20" stroke="#000" stroke-width="1.0"/>
<line x1="563.01" y1="2006.70" x2="563.01" y2="2014.20" stroke="#000" stroke-width="1.0"/>
<line x1="565.90" y1="2006.70" x2="565.90" y2="2014.20" stroke="#000" stroke-width="1.0"/>
<line x1="562.72" y1="2006.70" x2="562.72" y2="2014.20" stroke="#000" stroke-width="1.0"/>
<line x1="561.57" y1="2006.70" x2="561.57" y2="2014.20" stroke="#000" stroke-width="1.0"/>
<line x1="373.80" y1="2343.71" x2="373.80" y2="2207.65" stroke="#4bb8d6" stroke-width="2.2"/>
<line x1="369.30" y1="2343.71" x2="378.30" y2="2343.71" stroke="#4bb8d6" stroke-width="2.6"/>
<line x1="369.30" y1="2207.65" x2="378.30" y2="2207.65" stroke="#4bb8d6" stroke-width="2.6"/>
<line x1="539.95" y1="2069.01" x2="539.95" y2="2020.00" stroke="#4bb8d6" stroke-width="2.2"/>
<line x1="535.45" y1="2069.01" x2="544.45" y2="2069.01" stroke="#4bb8d6" stroke-width="2.6"/>
<line x1="535.45" y1="2020.00" x2="544.45" y2="2020.00" stroke="#4bb8d6" stroke-width="2.6"/>
<line x1="373.80" y1="2281.80" x2="539.95" y2="2043.86" stroke="#4bb8d6" stroke-width="3.0"/>
<path d="M365.50,2273.50L382.10,2290.10M365.50,2290.10L382.10,2273.50" stroke="#1d3f9e" stroke-width="2.6" fill="none"/>
<path d="M531.65,2040.72L548.25,2057.32M531.65,2057.32L548.25,2040.72" stroke="#1d3f9e" stroke-width="2.6" fill="none"/>
<circle cx="373.80" cy="2281.80" r="7.6" fill="#4bb8d6"/>
<circle cx="539.95" cy="2043.86" r="7.6" fill="#4bb8d6"/>
<rect x="198.80" y="2005.70" width="418.80" height="415.90" fill="none" stroke="#000" stroke-width="2.8"/>
<line x1="213.50" y1="2421.60" x2="213.50" y2="2431.60" stroke="#000" stroke-width="2.6"/>
<text transform="translate(201.11,2452.20)" font-family='"Liberation Sans", Arial, sans-serif' font-size="17.7">0.4</text>
<line x1="278.40" y1="2421.60" x2="278.40" y2="2431.60" stroke="#000" stroke-width="2.6"/>
<text transform="translate(266.10,2452.20)" font-family='"Liberation Sans", Arial, sans-serif' font-size="17.7">0.5</text>
<line x1="343.30" y1="2421.60" x2="343.30" y2="2431.60" stroke="#000" stroke-width="2.6"/>
<text transform="translate(331.04,2452.20)" font-family='"Liberation Sans", Arial, sans-serif' font-size="17.7">0.6</text>
<line x1="408.20" y1="2421.60" x2="408.20" y2="2431.60" stroke="#000" stroke-width="2.6"/>
<text transform="translate(395.99,2452.20)" font-family='"Liberation Sans", Arial, sans-serif' font-size="17.7">0.7</text>
<line x1="473.10" y1="2421.60" x2="473.10" y2="2431.60" stroke="#000" stroke-width="2.6"/>
<text transform="translate(460.80,2452.20)" font-family='"Liberation Sans", Arial, sans-serif' font-size="17.7">0.8</text>
<line x1="538.00" y1="2421.60" x2="538.00" y2="2431.60" stroke="#000" stroke-width="2.6"/>
<text transform="translate(525.74,2452.20)" font-family='"Liberation Sans", Arial, sans-serif' font-size="17.7">0.9</text>
<line x1="602.90" y1="2421.60" x2="602.90" y2="2431.60" stroke="#000" stroke-width="2.6"/>
<text transform="translate(590.29,2452.20)" font-family='"Liberation Sans", Arial, sans-serif' font-size="17.7">1.0</text>
<line x1="188.80" y1="2406.90" x2="198.80" y2="2406.90" stroke="#000" stroke-width="2.6"/>
<text transform="translate(161.63,2413.40)" font-family='"Liberation Sans", Arial, sans-serif' font-size="17.7">0.4</text>
<line x1="188.80" y1="2342.42" x2="198.80" y2="2342.42" stroke="#000" stroke-width="2.6"/>
<text transform="translate(161.81,2348.92)" font-family='"Liberation Sans", Arial, sans-serif' font-size="17.7">0.5</text>
<line x1="188.80" y1="2277.93" x2="198.80" y2="2277.93" stroke="#000" stroke-width="2.6"/>
<text transform="translate(161.89,2284.43)" font-family='"Liberation Sans", Arial, sans-serif' font-size="17.7">0.6</text>
<line x1="188.80" y1="2213.45" x2="198.80" y2="2213.45" stroke="#000" stroke-width="2.6"/>
<text transform="translate(161.98,2219.95)" font-family='"Liberation Sans", Arial, sans-serif' font-size="17.7">0.7</text>
<line x1="188.80" y1="2148.97" x2="198.80" y2="2148.97" stroke="#000" stroke-width="2.6"/>
<text transform="translate(161.81,2155.47)" font-family='"Liberation Sans", Arial, sans-serif' font-size="17.7">0.8</text>
<line x1="188.80" y1="2084.48" x2="198.80" y2="2084.48" stroke="#000" stroke-width="2.6"/>
<text transform="translate(161.89,2090.98)" font-family='"Liberation Sans", Arial, sans-serif' font-size="17.7">0.9</text>
<line x1="188.80" y1="2020.00" x2="198.80" y2="2020.00" stroke="#000" stroke-width="2.6"/>
<text transform="translate(161.81,2026.50)" font-family='"Liberation Sans", Arial, sans-serif' font-size="17.7">1.0</text>
<text transform="translate(217.34,2484.60) scale(1.0066,1)" font-family='"Liberation Sans", Arial, sans-serif' font-size="21.2">Nomogram predicted survival probability</text>
<text transform="translate(140.60,2384.58) rotate(-90) scale(1.0019,1)" font-family='"Liberation Sans", Arial, sans-serif' font-size="20.7">Observed fraction survival probability</text>
<line x1="489.60" y1="2381.00" x2="520.60" y2="2381.00" stroke="#4bb8d6" stroke-width="3.0" stroke-linecap="round"/>
<line x1="489.60" y1="2401.40" x2="520.60" y2="2401.40" stroke="#bdbdbd" stroke-width="3.0" stroke-linecap="round"/>
<text transform="translate(536.20,2387.80) scale(1.0222,1)" font-family='"Liberation Sans", Arial, sans-serif' font-size="17.7">2−Year</text>
<text transform="translate(535.44,2407.50) scale(1.0437,1)" font-family='"Liberation Sans", Arial, sans-serif' font-size="17.7">Ideal line</text>
</g>
<g>
<clipPath id="cp7132004"><rect x="713.5" y="2004.9" width="418.9000000000001" height="417.7999999999997"/></clipPath>
<line x1="618.71" y1="2517.56" x2="1227.49" y2="1910.04" stroke="#e4e4e4" stroke-width="3" clip-path="url(#cp7132004)"/>
<line x1="766.23" y1="2005.90" x2="766.23" y2="2013.40" stroke="#000" stroke-width="1.0"/>
<line x1="766.98" y1="2005.90" x2="766.98" y2="2013.40" stroke="#000" stroke-width="1.0"/>
<line x1="808.47" y1="2005.90" x2="808.47" y2="2013.40" stroke="#000" stroke-width="1.0"/>
<line x1="796.53" y1="2005.90" x2="796.53" y2="2013.40" stroke="#000" stroke-width="1.0"/>
<line x1="792.48" y1="2005.90" x2="792.48" y2="2013.40" stroke="#000" stroke-width="1.0"/>
<line x1="788.46" y1="2005.90" x2="788.46" y2="2013.40" stroke="#000" stroke-width="1.0"/>
<line x1="802.99" y1="2005.90" x2="802.99" y2="2013.40" stroke="#000" stroke-width="1.0"/>
<line x1="802.77" y1="2005.90" x2="802.77" y2="2013.40" stroke="#000" stroke-width="1.0"/>
<line x1="796.49" y1="2005.90" x2="796.49" y2="2013.40" stroke="#000" stroke-width="1.0"/>
<line x1="801.61" y1="2005.90" x2="801.61" y2="2013.40" stroke="#000" stroke-width="1.0"/>
<line x1="797.39" y1="2005.90" x2="797.39" y2="2013.40" stroke="#000" stroke-width="1.0"/>
<line x1="789.93" y1="2005.90" x2="789.93" y2="2013.40" stroke="#000" stroke-width="1.0"/>
<line x1="807.85" y1="2005.90" x2="807.85" y2="2013.40" stroke="#000" stroke-width="1.0"/>
<line x1="793.68" y1="2005.90" x2="793.68" y2="2013.40" stroke="#000" stroke-width="1.0"/>
<line x1="903.22" y1="2005.90" x2="903.22" y2="2013.40" stroke="#000" stroke-width="1.0"/>
<line x1="911.74" y1="2005.90" x2="911.74" y2="2013.40" stroke="#000" stroke-width="1.0"/>
<line x1="905.81" y1="2005.90" x2="905.81" y2="2013.40" stroke="#000" stroke-width="1.0"/>
<line x1="888.33" y1="2005.90" x2="888.33" y2="2013.40" stroke="#000" stroke-width="1.0"/>
<line x1="901.43" y1="2005.90" x2="901.43" y2="2013.40" stroke="#000" stroke-width="1.0"/>
<line x1="880.46" y1="2005.90" x2="880.46" y2="2013.40" stroke="#000" stroke-width="1.0"/>
<line x1="909.13" y1="2005.90" x2="909.13" y2="2013.40" stroke="#000" stroke-width="1.0"/>
<line x1="896.70" y1="2005.90" x2="896.70" y2="2013.40" stroke="#000" stroke-width="1.0"/>
<line x1="911.51" y1="2005.90" x2="911.51" y2="2013.40" stroke="#000" stroke-width="1.0"/>
<line x1="890.52" y1="2005.90" x2="890.52" y2="2013.40" stroke="#000" stroke-width="1.0"/>
<line x1="885.47" y1="2005.90" x2="885.47" y2="2013.40" stroke="#000" stroke-width="1.0"/>
<line x1="897.58" y1="2005.90" x2="897.58" y2="2013.40" stroke="#000" stroke-width="1.0"/>
<line x1="896.10" y1="2005.90" x2="896.10" y2="2013.40" stroke="#000" stroke-width="1.0"/>
<line x1="901.18" y1="2005.90" x2="901.18" y2="2013.40" stroke="#000" stroke-width="1.0"/>
<line x1="900.30" y1="2005.90" x2="900.30" y2="2013.40" stroke="#000" stroke-width="1.0"/>
<line x1="906.96" y1="2005.90" x2="906.96" y2="2013.40" stroke="#000" stroke-width="1.0"/>
<line x1="956.52" y1="2005.90" x2="956.52" y2="2013.40" stroke="#000" stroke-width="1.0"/>
<line x1="962.39" y1="2005.90" x2="962.39" y2="2013.40" stroke="#000" stroke-width="1.0"/>
<line x1="972.31" y1="2005.90" x2="972.31" y2="2013.40" stroke="#000" stroke-width="1.0"/>
<line x1="975.21" y1="2005.90" x2="975.21" y2="2013.40" stroke="#000" stroke-width="1.0"/>
<line x1="982.46" y1="2005.90" x2="982.46" y2="2013.40" stroke="#000" stroke-width="1.0"/>
<line x1="971.60" y1="2005.90" x2="971.60" y2="2013.40" stroke="#000" stroke-width="1.0"/>
<line x1="976.87" y1="2005.90" x2="976.87" y2="2013.40" stroke="#000" stroke-width="1.0"/>
<line x1="981.16" y1="2005.90" x2="981.16" y2="2013.40" stroke="#000" stroke-width="1.0"/>
<line x1="985.81" y1="2005.90" x2="985.81" y2="2013.40" stroke="#000" stroke-width="1.0"/>
<line x1="982.22" y1="2005.90" x2="982.22" y2="2013.40" stroke="#000" stroke-width="1.0"/>
<line x1="1030.44" y1="2005.90" x2="1030.44" y2="2013.40" stroke="#000" stroke-width="1.0"/>
<line x1="1024.87" y1="2005.90" x2="1024.87" y2="2013.40" stroke="#000" stroke-width="1.0"/>
<line x1="1033.10" y1="2005.90" x2="1033.10" y2="2013.40" stroke="#000" stroke-width="1.0"/>
<line x1="1027.89" y1="2005.90" x2="1027.89" y2="2013.40" stroke="#000" stroke-width="1.0"/>
<line x1="1037.17" y1="2005.90" x2="1037.17" y2="2013.40" stroke="#000" stroke-width="1.0"/>
<line x1="1035.46" y1="2005.90" x2="1035.46" y2="2013.40" stroke="#000" stroke-width="1.0"/>
<line x1="1027.99" y1="2005.90" x2="1027.99" y2="2013.40" stroke="#000" stroke-width="1.0"/>
<line x1="1040.49" y1="2005.90" x2="1040.49" y2="2013.40" stroke="#000" stroke-width="1.0"/>
<line x1="1022.61" y1="2005.90" x2="1022.61" y2="2013.40" stroke="#000" stroke-width="1.0"/>
<line x1="1023.04" y1="2005.90" x2="1023.04" y2="2013.40" stroke="#000" stroke-width="1.0"/>
<line x1="1030.40" y1="2005.90" x2="1030.40" y2="2013.40" stroke="#000" stroke-width="1.0"/>
<line x1="1027.75" y1="2005.90" x2="1027.75" y2="2013.40" stroke="#000" stroke-width="1.0"/>
<line x1="1064.86" y1="2005.90" x2="1064.86" y2="2013.40" stroke="#000" stroke-width="1.0"/>
<line x1="1068.88" y1="2005.90" x2="1068.88" y2="2013.40" stroke="#000" stroke-width="1.0"/>
<line x1="1065.88" y1="2005.90" x2="1065.88" y2="2013.40" stroke="#000" stroke-width="1.0"/>
<line x1="1061.02" y1="2005.90" x2="1061.02" y2="2013.40" stroke="#000" stroke-width="1.0"/>
<line x1="1068.27" y1="2005.90" x2="1068.27" y2="2013.40" stroke="#000" stroke-width="1.0"/>
<line x1="1063.75" y1="2005.90" x2="1063.75" y2="2013.40" stroke="#000" stroke-width="1.0"/>
<line x1="849.77" y1="2368.44" x2="849.77" y2="2248.04" stroke="#4bb8d6" stroke-width="2.2"/>
<line x1="845.27" y1="2368.44" x2="854.27" y2="2368.44" stroke="#4bb8d6" stroke-width="2.6"/>
<line x1="845.27" y1="2248.04" x2="854.27" y2="2248.04" stroke="#4bb8d6" stroke-width="2.6"/>
<line x1="1037.11" y1="2091.74" x2="1037.11" y2="2029.34" stroke="#4bb8d6" stroke-width="2.2"/>
<line x1="1032.61" y1="2091.74" x2="1041.61" y2="2091.74" stroke="#4bb8d6" stroke-width="2.6"/>
<line x1="1032.61" y1="2029.34" x2="1041.61" y2="2029.34" stroke="#4bb8d6" stroke-width="2.6"/>
<line x1="849.77" y1="2315.97" x2="1037.11" y2="2060.82" stroke="#4bb8d6" stroke-width="3.0"/>
<path d="M841.47,2304.91L858.07,2321.51M841.47,2321.51L858.07,2304.91" stroke="#1d3f9e" stroke-width="2.6" fill="none"/>
<path d="M1028.81,2056.38L1045.41,2072.98M1028.81,2072.98L1045.41,2056.38" stroke="#1d3f9e" stroke-width="2.6" fill="none"/>
<circle cx="849.77" cy="2315.97" r="7.6" fill="#4bb8d6"/>
<circle cx="1037.11" cy="2060.82" r="7.6" fill="#4bb8d6"/>
<rect x="713.50" y="2004.90" width="418.90" height="417.80" fill="none" stroke="#000" stroke-width="2.8"/>
<line x1="729.40" y1="2422.70" x2="729.40" y2="2432.70" stroke="#000" stroke-width="2.6"/>
<text transform="translate(717.14,2453.30)" font-family='"Liberation Sans", Arial, sans-serif' font-size="17.7">0.3</text>
<line x1="784.74" y1="2422.70" x2="784.74" y2="2432.70" stroke="#000" stroke-width="2.6"/>
<text transform="translate(772.35,2453.30)" font-family='"Liberation Sans", Arial, sans-serif' font-size="17.7">0.4</text>
<line x1="840.09" y1="2422.70" x2="840.09" y2="2432.70" stroke="#000" stroke-width="2.6"/>
<text transform="translate(827.78,2453.30)" font-family='"Liberation Sans", Arial, sans-serif' font-size="17.7">0.5</text>
<line x1="895.43" y1="2422.70" x2="895.43" y2="2432.70" stroke="#000" stroke-width="2.6"/>
<text transform="translate(883.17,2453.30)" font-family='"Liberation Sans", Arial, sans-serif' font-size="17.7">0.6</text>
<line x1="950.77" y1="2422.70" x2="950.77" y2="2432.70" stroke="#000" stroke-width="2.6"/>
<text transform="translate(938.56,2453.30)" font-family='"Liberation Sans", Arial, sans-serif' font-size="17.7">0.7</text>
<line x1="1006.11" y1="2422.70" x2="1006.11" y2="2432.70" stroke="#000" stroke-width="2.6"/>
<text transform="translate(993.81,2453.30)" font-family='"Liberation Sans", Arial, sans-serif' font-size="17.7">0.8</text>
<line x1="1061.46" y1="2422.70" x2="1061.46" y2="2432.70" stroke="#000" stroke-width="2.6"/>
<text transform="translate(1049.20,2453.30)" font-family='"Liberation Sans", Arial, sans-serif' font-size="17.7">0.9</text>
<line x1="1116.80" y1="2422.70" x2="1116.80" y2="2432.70" stroke="#000" stroke-width="2.6"/>
<text transform="translate(1104.19,2453.30)" font-family='"Liberation Sans", Arial, sans-serif' font-size="17.7">1.0</text>
<line x1="703.50" y1="2407.10" x2="713.50" y2="2407.10" stroke="#000" stroke-width="2.6"/>
<text transform="translate(676.59,2413.60)" font-family='"Liberation Sans", Arial, sans-serif' font-size="17.7">0.3</text>
<line x1="703.50" y1="2351.87" x2="713.50" y2="2351.87" stroke="#000" stroke-width="2.6"/>
<text transform="translate(676.33,2358.37)" font-family='"Liberation Sans", Arial, sans-serif' font-size="17.7">0.4</text>
<line x1="703.50" y1="2296.64" x2="713.50" y2="2296.64" stroke="#000" stroke-width="2.6"/>
<text transform="translate(676.50,2303.14)" font-family='"Liberation Sans", Arial, sans-serif' font-size="17.7">0.5</text>
<line x1="703.50" y1="2241.41" x2="713.50" y2="2241.41" stroke="#000" stroke-width="2.6"/>
<text transform="translate(676.59,2247.91)" font-family='"Liberation Sans", Arial, sans-serif' font-size="17.7">0.6</text>
<line x1="703.50" y1="2186.19" x2="713.50" y2="2186.19" stroke="#000" stroke-width="2.6"/>
<text transform="translate(676.68,2192.69)" font-family='"Liberation Sans", Arial, sans-serif' font-size="17.7">0.7</text>
<line x1="703.50" y1="2130.96" x2="713.50" y2="2130.96" stroke="#000" stroke-width="2.6"/>
<text transform="translate(676.50,2137.46)" font-family='"Liberation Sans", Arial, sans-serif' font-size="17.7">0.8</text>
<line x1="703.50" y1="2075.73" x2="713.50" y2="2075.73" stroke="#000" stroke-width="2.6"/>
<text transform="translate(676.59,2082.23)" font-family='"Liberation Sans", Arial, sans-serif' font-size="17.7">0.9</text>
<line x1="703.50" y1="2020.50" x2="713.50" y2="2020.50" stroke="#000" stroke-width="2.6"/>
<text transform="translate(676.50,2027.00)" font-family='"Liberation Sans", Arial, sans-serif' font-size="17.7">1.0</text>
<text transform="translate(732.09,2485.70) scale(1.0066,1)" font-family='"Liberation Sans", Arial, sans-serif' font-size="21.2">Nomogram predicted survival probability</text>
<text transform="translate(655.30,2384.73) rotate(-90) scale(1.0019,1)" font-family='"Liberation Sans", Arial, sans-serif' font-size="20.7">Observed fraction survival probability</text>
<line x1="1004.40" y1="2382.10" x2="1035.40" y2="2382.10" stroke="#4bb8d6" stroke-width="3.0" stroke-linecap="round"/>
<line x1="1004.40" y1="2402.50" x2="1035.40" y2="2402.50" stroke="#bdbdbd" stroke-width="3.0" stroke-linecap="round"/>
<text transform="translate(1051.18,2388.90) scale(1.0190,1)" font-family='"Liberation Sans", Arial, sans-serif' font-size="17.7">3−Year</text>
<text transform="translate(1050.24,2408.60) scale(1.0437,1)" font-family='"Liberation Sans", Arial, sans-serif' font-size="17.7">Ideal line</text>
</g>
<g>
<clipPath id="cp12282005"><rect x="1228.9" y="2005.0" width="419.79999999999995" height="417.0999999999999"/></clipPath>
<line x1="1133.40" y1="2517.14" x2="1742.80" y2="1910.26" stroke="#e4e4e4" stroke-width="3" clip-path="url(#cp12282005)"/>
<line x1="1237.46" y1="2006.00" x2="1237.46" y2="2013.50" stroke="#000" stroke-width="1.0"/>
<line x1="1237.75" y1="2006.00" x2="1237.75" y2="2013.50" stroke="#000" stroke-width="1.0"/>
<line x1="1257.58" y1="2006.00" x2="1257.58" y2="2013.50" stroke="#000" stroke-width="1.0"/>
<line x1="1263.35" y1="2006.00" x2="1263.35" y2="2013.50" stroke="#000" stroke-width="1.0"/>
<line x1="1270.30" y1="2006.00" x2="1270.30" y2="2013.50" stroke="#000" stroke-width="1.0"/>
<line x1="1259.29" y1="2006.00" x2="1259.29" y2="2013.50" stroke="#000" stroke-width="1.0"/>
<line x1="1274.11" y1="2006.00" x2="1274.11" y2="2013.50" stroke="#000" stroke-width="1.0"/>
<line x1="1264.33" y1="2006.00" x2="1264.33" y2="2013.50" stroke="#000" stroke-width="1.0"/>
<line x1="1268.67" y1="2006.00" x2="1268.67" y2="2013.50" stroke="#000" stroke-width="1.0"/>
<line x1="1256.87" y1="2006.00" x2="1256.87" y2="2013.50" stroke="#000" stroke-width="1.0"/>
<line x1="1275.34" y1="2006.00" x2="1275.34" y2="2013.50" stroke="#000" stroke-width="1.0"/>
<line x1="1270.52" y1="2006.00" x2="1270.52" y2="2013.50" stroke="#000" stroke-width="1.0"/>
<line x1="1264.96" y1="2006.00" x2="1264.96" y2="2013.50" stroke="#000" stroke-width="1.0"/>
<line x1="1270.98" y1="2006.00" x2="1270.98" y2="2013.50" stroke="#000" stroke-width="1.0"/>
<line x1="1351.99" y1="2006.00" x2="1351.99" y2="2013.50" stroke="#000" stroke-width="1.0"/>
<line x1="1355.47" y1="2006.00" x2="1355.47" y2="2013.50" stroke="#000" stroke-width="1.0"/>
<line x1="1394.68" y1="2006.00" x2="1394.68" y2="2013.50" stroke="#000" stroke-width="1.0"/>
<line x1="1349.29" y1="2006.00" x2="1349.29" y2="2013.50" stroke="#000" stroke-width="1.0"/>
<line x1="1375.77" y1="2006.00" x2="1375.77" y2="2013.50" stroke="#000" stroke-width="1.0"/>
<line x1="1369.87" y1="2006.00" x2="1369.87" y2="2013.50" stroke="#000" stroke-width="1.0"/>
<line x1="1378.83" y1="2006.00" x2="1378.83" y2="2013.50" stroke="#000" stroke-width="1.0"/>
<line x1="1376.74" y1="2006.00" x2="1376.74" y2="2013.50" stroke="#000" stroke-width="1.0"/>
<line x1="1376.01" y1="2006.00" x2="1376.01" y2="2013.50" stroke="#000" stroke-width="1.0"/>
<line x1="1370.29" y1="2006.00" x2="1370.29" y2="2013.50" stroke="#000" stroke-width="1.0"/>
<line x1="1392.06" y1="2006.00" x2="1392.06" y2="2013.50" stroke="#000" stroke-width="1.0"/>
<line x1="1355.33" y1="2006.00" x2="1355.33" y2="2013.50" stroke="#000" stroke-width="1.0"/>
<line x1="1373.77" y1="2006.00" x2="1373.77" y2="2013.50" stroke="#000" stroke-width="1.0"/>
<line x1="1349.01" y1="2006.00" x2="1349.01" y2="2013.50" stroke="#000" stroke-width="1.0"/>
<line x1="1385.57" y1="2006.00" x2="1385.57" y2="2013.50" stroke="#000" stroke-width="1.0"/>
<line x1="1382.14" y1="2006.00" x2="1382.14" y2="2013.50" stroke="#000" stroke-width="1.0"/>
<line x1="1454.74" y1="2006.00" x2="1454.74" y2="2013.50" stroke="#000" stroke-width="1.0"/>
<line x1="1483.61" y1="2006.00" x2="1483.61" y2="2013.50" stroke="#000" stroke-width="1.0"/>
<line x1="1469.27" y1="2006.00" x2="1469.27" y2="2013.50" stroke="#000" stroke-width="1.0"/>
<line x1="1489.18" y1="2006.00" x2="1489.18" y2="2013.50" stroke="#000" stroke-width="1.0"/>
<line x1="1470.58" y1="2006.00" x2="1470.58" y2="2013.50" stroke="#000" stroke-width="1.0"/>
<line x1="1486.54" y1="2006.00" x2="1486.54" y2="2013.50" stroke="#000" stroke-width="1.0"/>
<line x1="1466.66" y1="2006.00" x2="1466.66" y2="2013.50" stroke="#000" stroke-width="1.0"/>
<line x1="1471.00" y1="2006.00" x2="1471.00" y2="2013.50" stroke="#000" stroke-width="1.0"/>
<line x1="1477.78" y1="2006.00" x2="1477.78" y2="2013.50" stroke="#000" stroke-width="1.0"/>
<line x1="1560.52" y1="2006.00" x2="1560.52" y2="2013.50" stroke="#000" stroke-width="1.0"/>
<line x1="1550.36" y1="2006.00" x2="1550.36" y2="2013.50" stroke="#000" stroke-width="1.0"/>
<line x1="1555.43" y1="2006.00" x2="1555.43" y2="2013.50" stroke="#000" stroke-width="1.0"/>
<line x1="1562.15" y1="2006.00" x2="1562.15" y2="2013.50" stroke="#000" stroke-width="1.0"/>
<line x1="1544.21" y1="2006.00" x2="1544.21" y2="2013.50" stroke="#000" stroke-width="1.0"/>
<line x1="1559.97" y1="2006.00" x2="1559.97" y2="2013.50" stroke="#000" stroke-width="1.0"/>
<line x1="1563.63" y1="2006.00" x2="1563.63" y2="2013.50" stroke="#000" stroke-width="1.0"/>
<line x1="1558.17" y1="2006.00" x2="1558.17" y2="2013.50" stroke="#000" stroke-width="1.0"/>
<line x1="1561.71" y1="2006.00" x2="1561.71" y2="2013.50" stroke="#000" stroke-width="1.0"/>
<line x1="1554.79" y1="2006.00" x2="1554.79" y2="2013.50" stroke="#000" stroke-width="1.0"/>
<line x1="1561.99" y1="2006.00" x2="1561.99" y2="2013.50" stroke="#000" stroke-width="1.0"/>
<line x1="1563.17" y1="2006.00" x2="1563.17" y2="2013.50" stroke="#000" stroke-width="1.0"/>
<line x1="1600.71" y1="2006.00" x2="1600.71" y2="2013.50" stroke="#000" stroke-width="1.0"/>
<line x1="1600.92" y1="2006.00" x2="1600.92" y2="2013.50" stroke="#000" stroke-width="1.0"/>
<line x1="1604.51" y1="2006.00" x2="1604.51" y2="2013.50" stroke="#000" stroke-width="1.0"/>
<line x1="1608.13" y1="2006.00" x2="1608.13" y2="2013.50" stroke="#000" stroke-width="1.0"/>
<line x1="1607.17" y1="2006.00" x2="1607.17" y2="2013.50" stroke="#000" stroke-width="1.0"/>
<line x1="1605.49" y1="2006.00" x2="1605.49" y2="2013.50" stroke="#000" stroke-width="1.0"/>
<line x1="1607.16" y1="2006.00" x2="1607.16" y2="2013.50" stroke="#000" stroke-width="1.0"/>
<line x1="1600.90" y1="2006.00" x2="1600.90" y2="2013.50" stroke="#000" stroke-width="1.0"/>
<line x1="1328.96" y1="2377.01" x2="1328.96" y2="2258.94" stroke="#4bb8d6" stroke-width="2.2"/>
<line x1="1324.46" y1="2377.01" x2="1333.46" y2="2377.01" stroke="#4bb8d6" stroke-width="2.6"/>
<line x1="1324.46" y1="2258.94" x2="1333.46" y2="2258.94" stroke="#4bb8d6" stroke-width="2.6"/>
<line x1="1562.75" y1="2114.94" x2="1562.75" y2="2020.05" stroke="#4bb8d6" stroke-width="2.2"/>
<line x1="1558.25" y1="2114.94" x2="1567.25" y2="2114.94" stroke="#4bb8d6" stroke-width="2.6"/>
<line x1="1558.25" y1="2020.05" x2="1567.25" y2="2020.05" stroke="#4bb8d6" stroke-width="2.6"/>
<line x1="1328.96" y1="2326.80" x2="1562.75" y2="2069.70" stroke="#4bb8d6" stroke-width="3.0"/>
<path d="M1320.66,2311.33L1337.26,2327.93M1320.66,2327.93L1337.26,2311.33" stroke="#1d3f9e" stroke-width="2.6" fill="none"/>
<path d="M1554.45,2061.95L1571.05,2078.55M1554.45,2078.55L1571.05,2061.95" stroke="#1d3f9e" stroke-width="2.6" fill="none"/>
<circle cx="1328.96" cy="2326.80" r="7.6" fill="#4bb8d6"/>
<circle cx="1562.75" cy="2069.70" r="7.6" fill="#4bb8d6"/>
<rect x="1228.90" y="2005.00" width="419.80" height="417.10" fill="none" stroke="#000" stroke-width="2.8"/>
<line x1="1244.20" y1="2422.10" x2="1244.20" y2="2432.10" stroke="#000" stroke-width="2.6"/>
<text transform="translate(1231.99,2452.70)" font-family='"Liberation Sans", Arial, sans-serif' font-size="17.7">0.2</text>
<line x1="1299.60" y1="2422.10" x2="1299.60" y2="2432.10" stroke="#000" stroke-width="2.6"/>
<text transform="translate(1287.34,2452.70)" font-family='"Liberation Sans", Arial, sans-serif' font-size="17.7">0.3</text>
<line x1="1355.00" y1="2422.10" x2="1355.00" y2="2432.10" stroke="#000" stroke-width="2.6"/>
<text transform="translate(1342.61,2452.70)" font-family='"Liberation Sans", Arial, sans-serif' font-size="17.7">0.4</text>
<line x1="1410.40" y1="2422.10" x2="1410.40" y2="2432.10" stroke="#000" stroke-width="2.6"/>
<text transform="translate(1398.10,2452.70)" font-family='"Liberation Sans", Arial, sans-serif' font-size="17.7">0.5</text>
<line x1="1465.80" y1="2422.10" x2="1465.80" y2="2432.10" stroke="#000" stroke-width="2.6"/>
<text transform="translate(1453.54,2452.70)" font-family='"Liberation Sans", Arial, sans-serif' font-size="17.7">0.6</text>
<line x1="1521.20" y1="2422.10" x2="1521.20" y2="2432.10" stroke="#000" stroke-width="2.6"/>
<text transform="translate(1508.99,2452.70)" font-family='"Liberation Sans", Arial, sans-serif' font-size="17.7">0.7</text>
<line x1="1576.60" y1="2422.10" x2="1576.60" y2="2432.10" stroke="#000" stroke-width="2.6"/>
<text transform="translate(1564.30,2452.70)" font-family='"Liberation Sans", Arial, sans-serif' font-size="17.7">0.8</text>
<line x1="1632.00" y1="2422.10" x2="1632.00" y2="2432.10" stroke="#000" stroke-width="2.6"/>
<text transform="translate(1619.74,2452.70)" font-family='"Liberation Sans", Arial, sans-serif' font-size="17.7">0.9</text>
<line x1="1218.90" y1="2406.80" x2="1228.90" y2="2406.80" stroke="#000" stroke-width="2.6"/>
<text transform="translate(1192.08,2413.30)" font-family='"Liberation Sans", Arial, sans-serif' font-size="17.7">0.2</text>
<line x1="1218.90" y1="2351.63" x2="1228.90" y2="2351.63" stroke="#000" stroke-width="2.6"/>
<text transform="translate(1191.99,2358.13)" font-family='"Liberation Sans", Arial, sans-serif' font-size="17.7">0.3</text>
<line x1="1218.90" y1="2296.46" x2="1228.90" y2="2296.46" stroke="#000" stroke-width="2.6"/>
<text transform="translate(1191.73,2302.96)" font-family='"Liberation Sans", Arial, sans-serif' font-size="17.7">0.4</text>
<line x1="1218.90" y1="2241.29" x2="1228.90" y2="2241.29" stroke="#000" stroke-width="2.6"/>
<text transform="translate(1191.91,2247.79)" font-family='"Liberation Sans", Arial, sans-serif' font-size="17.7">0.5</text>
<line x1="1218.90" y1="2186.11" x2="1228.90" y2="2186.11" stroke="#000" stroke-width="2.6"/>
<text transform="translate(1191.99,2192.61)" font-family='"Liberation Sans", Arial, sans-serif' font-size="17.7">0.6</text>
<line x1="1218.90" y1="2130.94" x2="1228.90" y2="2130.94" stroke="#000" stroke-width="2.6"/>
<text transform="translate(1192.08,2137.44)" font-family='"Liberation Sans", Arial, sans-serif' font-size="17.7">0.7</text>
<line x1="1218.90" y1="2075.77" x2="1228.90" y2="2075.77" stroke="#000" stroke-width="2.6"/>
<text transform="translate(1191.91,2082.27)" font-family='"Liberation Sans", Arial, sans-serif' font-size="17.7">0.8</text>
<line x1="1218.90" y1="2020.60" x2="1228.90" y2="2020.60" stroke="#000" stroke-width="2.6"/>
<text transform="translate(1191.99,2027.10)" font-family='"Liberation Sans", Arial, sans-serif' font-size="17.7">0.9</text>
<text transform="translate(1247.94,2485.10) scale(1.0066,1)" font-family='"Liberation Sans", Arial, sans-serif' font-size="21.2">Nomogram predicted survival probability</text>
<text transform="translate(1170.70,2384.48) rotate(-90) scale(1.0019,1)" font-family='"Liberation Sans", Arial, sans-serif' font-size="20.7">Observed fraction survival probability</text>
<line x1="1520.70" y1="2381.50" x2="1551.70" y2="2381.50" stroke="#4bb8d6" stroke-width="3.0" stroke-linecap="round"/>
<line x1="1520.70" y1="2401.90" x2="1551.70" y2="2401.90" stroke="#bdbdbd" stroke-width="3.0" stroke-linecap="round"/>
<text transform="translate(1567.48,2388.30) scale(1.0190,1)" font-family='"Liberation Sans", Arial, sans-serif' font-size="17.7">5−Year</text>
<text transform="translate(1566.54,2408.00) scale(1.0437,1)" font-family='"Liberation Sans", Arial, sans-serif' font-size="17.7">Ideal line</text>
</g>
</svg>
</body></html>
